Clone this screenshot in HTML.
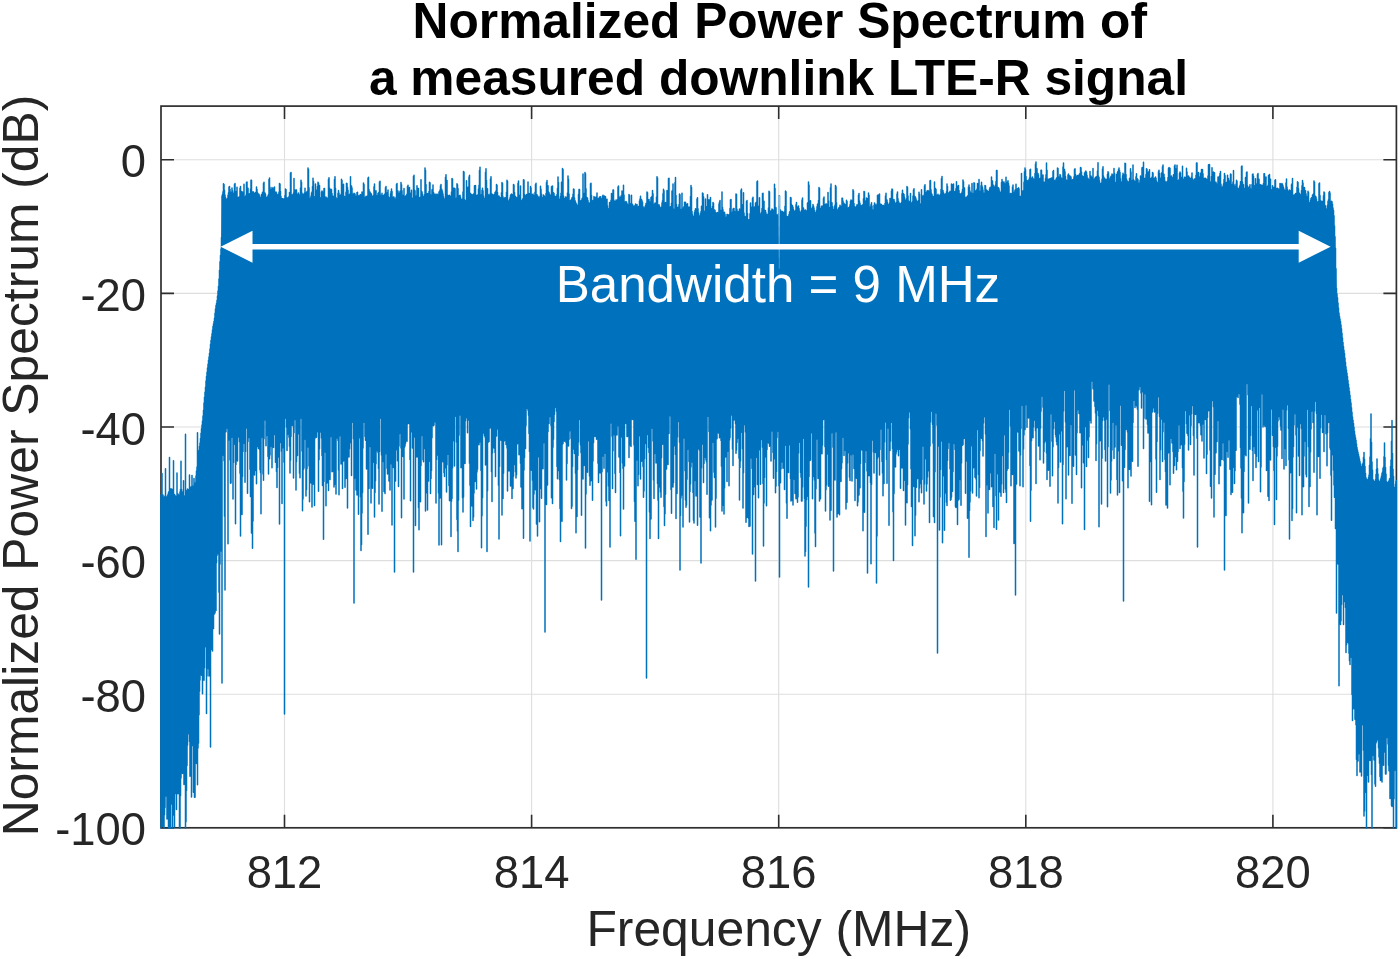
<!DOCTYPE html>
<html><head><meta charset="utf-8"><title>Normalized Power Spectrum</title>
<style>
html,body{margin:0;padding:0;background:#fff;overflow:hidden;}
svg{display:block}
text{font-family:"Liberation Sans",sans-serif;}
.tk{font-size:45.4px;fill:#262626;}
.lb{font-size:49.8px;fill:#262626;}
.tt{font-size:49.7px;font-weight:bold;fill:#000;}
</style></head><body>
<svg width="1400" height="959" viewBox="0 0 1400 959">
<rect width="1400" height="959" fill="#fff"/>
<defs><clipPath id="ax"><rect x="160.15" y="106.1" width="1237.1000000000001" height="722.6999999999999"/></clipPath></defs>
<path d="M284.50 106.1V827.8M531.60 106.1V827.8M778.70 106.1V827.8M1025.80 106.1V827.8M1272.90 106.1V827.8M161.0 159.80H1396.4M161.0 293.40H1396.4M161.0 427.00H1396.4M161.0 560.60H1396.4M161.0 694.20H1396.4" stroke="#dedede" stroke-width="1.1" fill="none"/>
<rect x="161.0" y="106.1" width="1235.4" height="721.6999999999999" fill="none" stroke="#2e2e2e" stroke-width="1.7"/>
<path d="M284.50 827.8v-13M284.50 106.1v13M531.60 827.8v-13M531.60 106.1v13M778.70 827.8v-13M778.70 106.1v13M1025.80 827.8v-13M1025.80 106.1v13M1272.90 827.8v-13M1272.90 106.1v13M161.0 159.80h13M1396.4 159.80h-13M161.0 293.40h13M1396.4 293.40h-13M161.0 427.00h13M1396.4 427.00h-13M161.0 560.60h13M1396.4 560.60h-13M161.0 694.20h13M1396.4 694.20h-13M161.0 827.80h13M1396.4 827.80h-13" stroke="#2e2e2e" stroke-width="1.6" fill="none"/>
<g clip-path="url(#ax)"><path d="M161.0 504.0 L162.0 503.9 L163.0 503.8 L164.0 503.7 L165.0 503.7 L166.0 503.6 L167.0 503.5 L168.0 503.4 L169.0 503.3 L170.0 503.2 L171.0 503.1 L172.0 503.0 L173.0 503.0 L174.0 502.9 L175.0 502.8 L176.0 502.7 L177.0 502.6 L178.0 502.5 L179.0 502.4 L180.0 502.3 L181.0 502.3 L182.0 502.2 L183.0 502.1 L184.0 502.0 L185.0 501.2 L186.0 500.3 L187.0 499.5 L188.0 498.7 L189.0 497.8 L190.0 497.0 L191.0 495.6 L192.0 494.2 L193.0 492.8 L194.0 491.4 L195.0 490.0 L196.0 482.2 L197.0 474.4 L198.0 466.7 L199.0 458.7 L200.0 450.5 L201.0 442.2 L202.0 434.0 L203.0 422.5 L204.0 411.0 L205.0 399.5 L206.0 388.0 L207.0 380.3 L208.0 372.6 L209.0 364.9 L210.0 357.2 L211.0 349.5 L212.0 341.8 L213.0 334.5 L214.0 327.5 L215.0 320.5 L216.0 313.6 L217.0 306.6 L218.0 299.2 L219.0 287.7 L220.0 270.0 L221.0 255.8 L222.0 203.0 L223.0 203.0 L224.0 203.0 L225.0 203.0 L226.0 203.0 L227.0 203.0 L228.0 203.0 L229.0 203.0 L230.0 203.0 L231.0 203.0 L232.0 203.0 L233.0 203.0 L234.0 203.0 L235.0 203.0 L236.0 203.0 L237.0 203.0 L238.0 203.0 L239.0 203.0 L240.0 203.0 L241.0 203.0 L242.0 203.0 L243.0 203.0 L244.0 203.0 L245.0 203.0 L246.0 203.0 L247.0 203.0 L248.0 203.0 L249.0 203.0 L250.0 203.0 L251.0 203.0 L252.0 203.0 L253.0 203.0 L254.0 203.0 L255.0 203.0 L256.0 203.0 L257.0 203.0 L258.0 203.0 L259.0 203.0 L260.0 203.0 L261.0 203.0 L262.0 203.0 L263.0 203.0 L264.0 203.0 L265.0 203.0 L266.0 203.0 L267.0 203.0 L268.0 203.0 L269.0 203.0 L270.0 203.0 L271.0 203.0 L272.0 203.0 L273.0 203.0 L274.0 203.0 L275.0 203.0 L276.0 203.0 L277.0 203.0 L278.0 203.0 L279.0 203.0 L280.0 203.0 L281.0 203.0 L282.0 203.0 L283.0 203.0 L284.0 203.0 L285.0 203.0 L286.0 203.0 L287.0 203.0 L288.0 203.0 L289.0 203.0 L290.0 203.0 L291.0 203.0 L292.0 203.0 L293.0 203.0 L294.0 203.0 L295.0 203.0 L296.0 203.0 L297.0 203.0 L298.0 203.0 L299.0 203.0 L300.0 203.0 L301.0 203.0 L302.0 203.0 L303.0 203.0 L304.0 203.0 L305.0 203.0 L306.0 203.0 L307.0 203.0 L308.0 203.0 L309.0 203.0 L310.0 203.0 L311.0 203.0 L312.0 203.0 L313.0 203.0 L314.0 203.0 L315.0 203.0 L316.0 203.0 L317.0 203.0 L318.0 203.0 L319.0 203.0 L320.0 203.0 L321.0 203.0 L322.0 203.0 L323.0 203.0 L324.0 203.0 L325.0 203.0 L326.0 203.0 L327.0 203.0 L328.0 203.0 L329.0 203.0 L330.0 203.0 L331.0 203.0 L332.0 203.0 L333.0 203.0 L334.0 203.0 L335.0 203.0 L336.0 203.0 L337.0 203.0 L338.0 203.0 L339.0 203.0 L340.0 203.0 L341.0 203.0 L342.0 203.0 L343.0 203.0 L344.0 203.1 L345.0 203.1 L346.0 203.2 L347.0 203.3 L348.0 203.4 L349.0 203.4 L350.0 203.5 L351.0 203.6 L352.0 203.6 L353.0 203.7 L354.0 203.8 L355.0 203.9 L356.0 203.9 L357.0 204.0 L358.0 204.1 L359.0 204.1 L360.0 204.2 L361.0 204.3 L362.0 204.4 L363.0 204.4 L364.0 204.5 L365.0 204.6 L366.0 204.6 L367.0 204.7 L368.0 204.8 L369.0 204.9 L370.0 204.9 L371.0 205.0 L372.0 205.0 L373.0 204.9 L374.0 204.9 L375.0 204.9 L376.0 204.9 L377.0 204.8 L378.0 204.8 L379.0 204.8 L380.0 204.8 L381.0 204.7 L382.0 204.7 L383.0 204.7 L384.0 204.7 L385.0 204.6 L386.0 204.6 L387.0 204.6 L388.0 204.6 L389.0 204.5 L390.0 204.5 L391.0 204.5 L392.0 204.5 L393.0 204.4 L394.0 204.4 L395.0 204.4 L396.0 204.4 L397.0 204.3 L398.0 204.3 L399.0 204.3 L400.0 204.3 L401.0 204.2 L402.0 204.2 L403.0 204.2 L404.0 204.2 L405.0 204.1 L406.0 204.1 L407.0 204.1 L408.0 204.1 L409.0 204.0 L410.0 204.0 L411.0 204.0 L412.0 204.0 L413.0 203.9 L414.0 203.9 L415.0 203.9 L416.0 203.9 L417.0 203.8 L418.0 203.8 L419.0 203.8 L420.0 203.8 L421.0 203.7 L422.0 203.7 L423.0 203.7 L424.0 203.7 L425.0 203.6 L426.0 203.6 L427.0 203.6 L428.0 203.6 L429.0 203.5 L430.0 203.5 L431.0 203.5 L432.0 203.5 L433.0 203.5 L434.0 203.5 L435.0 203.5 L436.0 203.5 L437.0 203.5 L438.0 203.5 L439.0 203.5 L440.0 203.5 L441.0 203.5 L442.0 203.5 L443.0 203.5 L444.0 203.5 L445.0 203.5 L446.0 203.5 L447.0 203.5 L448.0 203.5 L449.0 203.5 L450.0 203.5 L451.0 203.5 L452.0 203.5 L453.0 203.5 L454.0 203.5 L455.0 203.5 L456.0 203.5 L457.0 203.5 L458.0 203.5 L459.0 203.5 L460.0 203.5 L461.0 203.5 L462.0 203.5 L463.0 203.5 L464.0 203.5 L465.0 203.5 L466.0 203.5 L467.0 203.5 L468.0 203.5 L469.0 203.5 L470.0 203.5 L471.0 203.5 L472.0 203.5 L473.0 203.5 L474.0 203.5 L475.0 203.5 L476.0 203.5 L477.0 203.5 L478.0 203.5 L479.0 203.5 L480.0 203.5 L481.0 203.5 L482.0 203.5 L483.0 203.5 L484.0 203.5 L485.0 203.5 L486.0 203.5 L487.0 203.5 L488.0 203.5 L489.0 203.6 L490.0 203.6 L491.0 203.6 L492.0 203.6 L493.0 203.7 L494.0 203.7 L495.0 203.7 L496.0 203.7 L497.0 203.8 L498.0 203.8 L499.0 203.8 L500.0 203.8 L501.0 203.9 L502.0 203.9 L503.0 203.9 L504.0 203.9 L505.0 203.9 L506.0 204.0 L507.0 204.0 L508.0 204.0 L509.0 204.0 L510.0 204.1 L511.0 204.1 L512.0 204.1 L513.0 204.1 L514.0 204.2 L515.0 204.2 L516.0 204.2 L517.0 204.2 L518.0 204.3 L519.0 204.3 L520.0 204.3 L521.0 204.3 L522.0 204.3 L523.0 204.4 L524.0 204.4 L525.0 204.4 L526.0 204.4 L527.0 204.5 L528.0 204.5 L529.0 204.5 L530.0 204.5 L531.0 204.6 L532.0 204.6 L533.0 204.6 L534.0 204.6 L535.0 204.7 L536.0 204.7 L537.0 204.7 L538.0 204.7 L539.0 204.7 L540.0 204.8 L541.0 204.8 L542.0 204.8 L543.0 204.8 L544.0 204.9 L545.0 204.9 L546.0 204.9 L547.0 204.9 L548.0 205.0 L549.0 205.0 L550.0 205.0 L551.0 205.0 L552.0 205.1 L553.0 205.1 L554.0 205.1 L555.0 205.1 L556.0 205.1 L557.0 205.2 L558.0 205.2 L559.0 205.2 L560.0 205.2 L561.0 205.3 L562.0 205.3 L563.0 205.3 L564.0 205.3 L565.0 205.4 L566.0 205.4 L567.0 205.4 L568.0 205.4 L569.0 205.5 L570.0 205.5 L571.0 205.5 L572.0 205.6 L573.0 205.7 L574.0 205.9 L575.0 206.0 L576.0 206.1 L577.0 206.2 L578.0 206.3 L579.0 206.5 L580.0 206.6 L581.0 206.7 L582.0 206.8 L583.0 206.9 L584.0 207.1 L585.0 207.2 L586.0 207.3 L587.0 207.4 L588.0 207.6 L589.0 207.7 L590.0 207.8 L591.0 207.9 L592.0 208.0 L593.0 208.2 L594.0 208.3 L595.0 208.4 L596.0 208.5 L597.0 208.6 L598.0 208.8 L599.0 208.9 L600.0 209.0 L601.0 209.1 L602.0 209.2 L603.0 209.3 L604.0 209.4 L605.0 209.5 L606.0 209.6 L607.0 209.7 L608.0 209.8 L609.0 209.9 L610.0 210.0 L611.0 210.1 L612.0 210.2 L613.0 210.3 L614.0 210.4 L615.0 210.5 L616.0 210.6 L617.0 210.7 L618.0 210.8 L619.0 210.9 L620.0 211.0 L621.0 211.1 L622.0 211.2 L623.0 211.3 L624.0 211.4 L625.0 211.5 L626.0 211.6 L627.0 211.7 L628.0 211.8 L629.0 211.9 L630.0 212.0 L631.0 212.1 L632.0 212.2 L633.0 212.3 L634.0 212.4 L635.0 212.5 L636.0 212.6 L637.0 212.7 L638.0 212.8 L639.0 212.9 L640.0 213.0 L641.0 213.1 L642.0 213.2 L643.0 213.3 L644.0 213.4 L645.0 213.5 L646.0 213.6 L647.0 213.7 L648.0 213.8 L649.0 213.9 L650.0 214.0 L651.0 214.1 L652.0 214.2 L653.0 214.3 L654.0 214.4 L655.0 214.5 L656.0 214.6 L657.0 214.7 L658.0 214.8 L659.0 214.9 L660.0 215.0 L661.0 215.1 L662.0 215.2 L663.0 215.3 L664.0 215.4 L665.0 215.5 L666.0 215.6 L667.0 215.7 L668.0 215.8 L669.0 215.9 L670.0 216.0 L671.0 216.1 L672.0 216.2 L673.0 216.3 L674.0 216.3 L675.0 216.4 L676.0 216.5 L677.0 216.6 L678.0 216.7 L679.0 216.8 L680.0 216.9 L681.0 217.0 L682.0 217.1 L683.0 217.2 L684.0 217.3 L685.0 217.4 L686.0 217.5 L687.0 217.6 L688.0 217.7 L689.0 217.8 L690.0 217.9 L691.0 218.0 L692.0 218.1 L693.0 218.2 L694.0 218.3 L695.0 218.4 L696.0 218.5 L697.0 218.6 L698.0 218.7 L699.0 218.8 L700.0 218.9 L701.0 219.0 L702.0 219.0 L703.0 219.1 L704.0 219.2 L705.0 219.3 L706.0 219.4 L707.0 219.5 L708.0 219.6 L709.0 219.7 L710.0 219.8 L711.0 219.9 L712.0 220.0 L713.0 220.1 L714.0 220.2 L715.0 220.3 L716.0 220.4 L717.0 220.5 L718.0 220.6 L719.0 220.7 L720.0 220.8 L721.0 220.9 L722.0 221.0 L723.0 221.1 L724.0 221.2 L725.0 221.3 L726.0 221.4 L727.0 221.5 L728.0 221.6 L729.0 221.7 L730.0 221.7 L731.0 221.8 L732.0 221.9 L733.0 222.0 L734.0 222.1 L735.0 222.2 L736.0 222.3 L737.0 222.4 L738.0 222.5 L739.0 222.6 L740.0 222.7 L741.0 222.8 L742.0 222.9 L743.0 223.0 L744.0 222.9 L745.0 222.9 L746.0 222.8 L747.0 222.8 L748.0 222.7 L749.0 222.7 L750.0 222.6 L751.0 222.6 L752.0 222.5 L753.0 222.5 L754.0 222.4 L755.0 222.4 L756.0 222.3 L757.0 222.2 L758.0 222.2 L759.0 222.1 L760.0 222.1 L761.0 222.0 L762.0 222.0 L763.0 221.9 L764.0 221.9 L765.0 221.8 L766.0 221.8 L767.0 221.7 L768.0 221.6 L769.0 221.6 L770.0 221.5 L771.0 221.5 L772.0 221.4 L773.0 221.4 L774.0 221.3 L775.0 221.3 L776.0 221.2 L777.0 221.2 L778.0 221.1 L779.0 221.1 L780.0 221.0 L781.0 220.9 L782.0 220.8 L783.0 220.7 L784.0 220.6 L785.0 220.5 L786.0 220.4 L787.0 220.3 L788.0 220.2 L789.0 220.2 L790.0 220.1 L791.0 220.0 L792.0 219.9 L793.0 219.8 L794.0 219.7 L795.0 219.6 L796.0 219.5 L797.0 219.4 L798.0 219.3 L799.0 219.2 L800.0 219.1 L801.0 219.0 L802.0 218.9 L803.0 218.8 L804.0 218.7 L805.0 218.6 L806.0 218.5 L807.0 218.5 L808.0 218.4 L809.0 218.3 L810.0 218.2 L811.0 218.1 L812.0 218.0 L813.0 217.9 L814.0 217.8 L815.0 217.7 L816.0 217.6 L817.0 217.5 L818.0 217.4 L819.0 217.3 L820.0 217.2 L821.0 217.1 L822.0 217.0 L823.0 216.9 L824.0 216.8 L825.0 216.8 L826.0 216.7 L827.0 216.6 L828.0 216.5 L829.0 216.4 L830.0 216.3 L831.0 216.2 L832.0 216.1 L833.0 216.0 L834.0 215.9 L835.0 215.8 L836.0 215.7 L837.0 215.6 L838.0 215.5 L839.0 215.4 L840.0 215.3 L841.0 215.2 L842.0 215.2 L843.0 215.1 L844.0 215.0 L845.0 214.9 L846.0 214.8 L847.0 214.7 L848.0 214.6 L849.0 214.5 L850.0 214.4 L851.0 214.3 L852.0 214.2 L853.0 214.1 L854.0 214.0 L855.0 213.9 L856.0 213.8 L857.0 213.7 L858.0 213.6 L859.0 213.5 L860.0 213.5 L861.0 213.4 L862.0 213.3 L863.0 213.2 L864.0 213.1 L865.0 213.0 L866.0 212.9 L867.0 212.8 L868.0 212.7 L869.0 212.6 L870.0 212.5 L871.0 212.4 L872.0 212.3 L873.0 212.2 L874.0 212.1 L875.0 212.0 L876.0 211.9 L877.0 211.8 L878.0 211.8 L879.0 211.7 L880.0 211.6 L881.0 211.5 L882.0 211.4 L883.0 211.3 L884.0 211.2 L885.0 211.1 L886.0 211.0 L887.0 210.9 L888.0 210.7 L889.0 210.6 L890.0 210.4 L891.0 210.3 L892.0 210.2 L893.0 210.0 L894.0 209.9 L895.0 209.7 L896.0 209.6 L897.0 209.5 L898.0 209.3 L899.0 209.2 L900.0 209.0 L901.0 208.9 L902.0 208.8 L903.0 208.6 L904.0 208.5 L905.0 208.3 L906.0 208.2 L907.0 208.1 L908.0 207.9 L909.0 207.8 L910.0 207.6 L911.0 207.5 L912.0 207.4 L913.0 207.2 L914.0 207.1 L915.0 206.9 L916.0 206.8 L917.0 206.6 L918.0 206.5 L919.0 206.4 L920.0 206.2 L921.0 206.1 L922.0 205.9 L923.0 205.8 L924.0 205.7 L925.0 205.5 L926.0 205.4 L927.0 205.2 L928.0 205.1 L929.0 205.0 L930.0 204.8 L931.0 204.7 L932.0 204.5 L933.0 204.4 L934.0 204.3 L935.0 204.1 L936.0 204.0 L937.0 203.8 L938.0 203.7 L939.0 203.6 L940.0 203.4 L941.0 203.3 L942.0 203.1 L943.0 203.0 L944.0 202.9 L945.0 202.8 L946.0 202.7 L947.0 202.6 L948.0 202.6 L949.0 202.5 L950.0 202.4 L951.0 202.3 L952.0 202.2 L953.0 202.1 L954.0 202.0 L955.0 201.9 L956.0 201.9 L957.0 201.8 L958.0 201.7 L959.0 201.6 L960.0 201.5 L961.0 201.4 L962.0 201.3 L963.0 201.2 L964.0 201.2 L965.0 201.1 L966.0 201.0 L967.0 200.9 L968.0 200.8 L969.0 200.7 L970.0 200.6 L971.0 200.5 L972.0 200.5 L973.0 200.4 L974.0 200.3 L975.0 200.2 L976.0 200.1 L977.0 200.0 L978.0 199.9 L979.0 199.8 L980.0 199.8 L981.0 199.7 L982.0 199.6 L983.0 199.5 L984.0 199.4 L985.0 199.3 L986.0 199.2 L987.0 199.1 L988.0 199.1 L989.0 199.0 L990.0 198.9 L991.0 198.8 L992.0 198.7 L993.0 198.6 L994.0 198.5 L995.0 198.4 L996.0 198.4 L997.0 198.3 L998.0 198.2 L999.0 198.1 L1000.0 198.0 L1001.0 198.2 L1002.0 198.3 L1003.0 198.5 L1004.0 198.7 L1005.0 198.9 L1006.0 199.0 L1007.0 199.2 L1008.0 199.4 L1009.0 199.6 L1010.0 199.7 L1011.0 199.9 L1012.0 200.1 L1013.0 200.3 L1014.0 200.4 L1015.0 200.6 L1016.0 200.8 L1017.0 201.0 L1018.0 201.1 L1019.0 201.3 L1020.0 201.5 L1021.0 201.7 L1022.0 201.8 L1023.0 202.0 L1024.0 198.6 L1025.0 195.2 L1026.0 191.9 L1027.0 188.5 L1028.0 188.5 L1029.0 188.4 L1030.0 188.4 L1031.0 188.3 L1032.0 188.3 L1033.0 188.2 L1034.0 188.2 L1035.0 188.2 L1036.0 188.1 L1037.0 188.1 L1038.0 188.0 L1039.0 188.0 L1040.0 187.9 L1041.0 187.9 L1042.0 187.9 L1043.0 187.8 L1044.0 187.8 L1045.0 187.7 L1046.0 187.7 L1047.0 187.7 L1048.0 187.6 L1049.0 187.6 L1050.0 187.5 L1051.0 187.5 L1052.0 187.4 L1053.0 187.4 L1054.0 187.4 L1055.0 187.3 L1056.0 187.3 L1057.0 187.2 L1058.0 187.2 L1059.0 187.1 L1060.0 187.1 L1061.0 187.1 L1062.0 187.0 L1063.0 187.0 L1064.0 186.9 L1065.0 186.9 L1066.0 186.8 L1067.0 186.8 L1068.0 186.8 L1069.0 186.7 L1070.0 186.7 L1071.0 186.6 L1072.0 186.6 L1073.0 186.6 L1074.0 186.5 L1075.0 186.5 L1076.0 186.4 L1077.0 186.4 L1078.0 186.3 L1079.0 186.3 L1080.0 186.3 L1081.0 186.2 L1082.0 186.2 L1083.0 186.1 L1084.0 186.1 L1085.0 186.0 L1086.0 186.0 L1087.0 186.0 L1088.0 186.0 L1089.0 186.0 L1090.0 186.0 L1091.0 186.0 L1092.0 186.0 L1093.0 186.0 L1094.0 186.0 L1095.0 186.0 L1096.0 186.0 L1097.0 186.0 L1098.0 186.0 L1099.0 186.0 L1100.0 186.0 L1101.0 186.0 L1102.0 186.0 L1103.0 186.0 L1104.0 186.0 L1105.0 186.0 L1106.0 186.0 L1107.0 186.0 L1108.0 186.0 L1109.0 186.0 L1110.0 186.0 L1111.0 186.0 L1112.0 186.0 L1113.0 186.0 L1114.0 186.0 L1115.0 186.0 L1116.0 186.0 L1117.0 186.0 L1118.0 186.0 L1119.0 186.0 L1120.0 186.0 L1121.0 186.0 L1122.0 186.0 L1123.0 186.0 L1124.0 186.0 L1125.0 186.0 L1126.0 186.0 L1127.0 186.0 L1128.0 186.0 L1129.0 186.0 L1130.0 186.0 L1131.0 186.0 L1132.0 186.0 L1133.0 186.0 L1134.0 186.0 L1135.0 186.0 L1136.0 186.0 L1137.0 186.0 L1138.0 186.0 L1139.0 186.0 L1140.0 186.0 L1141.0 186.0 L1142.0 186.0 L1143.0 186.0 L1144.0 186.0 L1145.0 186.0 L1146.0 186.0 L1147.0 186.0 L1148.0 186.0 L1149.0 186.0 L1150.0 186.0 L1151.0 186.0 L1152.0 186.0 L1153.0 186.0 L1154.0 186.0 L1155.0 186.0 L1156.0 186.0 L1157.0 186.0 L1158.0 186.0 L1159.0 186.0 L1160.0 186.0 L1161.0 186.0 L1162.0 186.0 L1163.0 186.0 L1164.0 186.0 L1165.0 186.0 L1166.0 186.0 L1167.0 186.0 L1168.0 186.0 L1169.0 186.0 L1170.0 186.0 L1171.0 186.0 L1172.0 186.1 L1173.0 186.2 L1174.0 186.3 L1175.0 186.4 L1176.0 186.5 L1177.0 186.6 L1178.0 186.7 L1179.0 186.7 L1180.0 186.8 L1181.0 186.9 L1182.0 187.0 L1183.0 187.1 L1184.0 187.2 L1185.0 187.3 L1186.0 187.4 L1187.0 187.5 L1188.0 187.6 L1189.0 187.7 L1190.0 187.8 L1191.0 187.9 L1192.0 188.0 L1193.0 188.0 L1194.0 188.1 L1195.0 188.2 L1196.0 188.3 L1197.0 188.4 L1198.0 188.5 L1199.0 188.6 L1200.0 188.7 L1201.0 188.8 L1202.0 188.9 L1203.0 189.0 L1204.0 189.1 L1205.0 189.2 L1206.0 189.3 L1207.0 189.3 L1208.0 189.4 L1209.0 189.5 L1210.0 189.6 L1211.0 189.7 L1212.0 189.8 L1213.0 189.9 L1214.0 190.0 L1215.0 190.1 L1216.0 190.2 L1217.0 190.3 L1218.0 190.4 L1219.0 190.5 L1220.0 190.6 L1221.0 190.7 L1222.0 190.7 L1223.0 190.8 L1224.0 190.9 L1225.0 191.0 L1226.0 191.1 L1227.0 191.2 L1228.0 191.3 L1229.0 191.4 L1230.0 191.5 L1231.0 191.6 L1232.0 191.7 L1233.0 191.8 L1234.0 191.9 L1235.0 192.0 L1236.0 192.0 L1237.0 192.1 L1238.0 192.2 L1239.0 192.3 L1240.0 192.4 L1241.0 192.5 L1242.0 192.6 L1243.0 192.7 L1244.0 192.8 L1245.0 192.9 L1246.0 193.0 L1247.0 193.1 L1248.0 193.2 L1249.0 193.3 L1250.0 193.3 L1251.0 193.4 L1252.0 193.5 L1253.0 193.6 L1254.0 193.7 L1255.0 193.8 L1256.0 193.9 L1257.0 194.0 L1258.0 194.2 L1259.0 194.3 L1260.0 194.5 L1261.0 194.7 L1262.0 194.8 L1263.0 195.0 L1264.0 195.1 L1265.0 195.3 L1266.0 195.5 L1267.0 195.6 L1268.0 195.8 L1269.0 196.0 L1270.0 196.1 L1271.0 196.3 L1272.0 196.4 L1273.0 196.6 L1274.0 196.8 L1275.0 196.9 L1276.0 197.1 L1277.0 197.3 L1278.0 197.4 L1279.0 197.6 L1280.0 197.7 L1281.0 197.9 L1282.0 198.1 L1283.0 198.2 L1284.0 198.4 L1285.0 198.6 L1286.0 198.7 L1287.0 198.9 L1288.0 199.0 L1289.0 199.2 L1290.0 199.4 L1291.0 199.5 L1292.0 199.7 L1293.0 199.9 L1294.0 200.0 L1295.0 200.2 L1296.0 200.3 L1297.0 200.5 L1298.0 200.7 L1299.0 200.8 L1300.0 201.0 L1301.0 201.4 L1302.0 201.9 L1303.0 202.3 L1304.0 202.7 L1305.0 203.1 L1306.0 203.6 L1307.0 204.0 L1308.0 204.4 L1309.0 204.9 L1310.0 205.3 L1311.0 205.7 L1312.0 206.1 L1313.0 206.6 L1314.0 207.0 L1315.0 207.4 L1316.0 207.9 L1317.0 208.3 L1318.0 208.7 L1319.0 209.1 L1320.0 209.6 L1321.0 210.0 L1322.0 210.4 L1323.0 210.9 L1324.0 211.3 L1325.0 211.7 L1326.0 212.1 L1327.0 212.6 L1328.0 213.0 L1329.0 213.7 L1330.0 214.4 L1331.0 215.1 L1332.0 215.9 L1333.0 216.6 L1334.0 223.0 L1335.0 244.3 L1336.0 275.9 L1337.0 304.1 L1338.0 311.8 L1339.0 319.5 L1340.0 327.2 L1341.0 334.8 L1342.0 342.5 L1343.0 350.2 L1344.0 357.9 L1345.0 365.6 L1346.0 373.3 L1347.0 381.0 L1348.0 388.6 L1349.0 396.1 L1350.0 403.7 L1351.0 411.3 L1352.0 418.9 L1353.0 426.4 L1354.0 434.0 L1355.0 441.0 L1356.0 448.0 L1357.0 455.0 L1358.0 459.7 L1359.0 464.3 L1360.0 469.0 L1361.0 473.7 L1362.0 476.8 L1363.0 478.3 L1364.0 479.8 L1365.0 481.4 L1366.0 482.9 L1367.0 484.5 L1368.0 486.0 L1369.0 486.1 L1370.0 486.3 L1371.0 486.4 L1372.0 486.6 L1373.0 486.7 L1374.0 486.8 L1375.0 487.0 L1376.0 487.1 L1377.0 487.2 L1378.0 487.4 L1379.0 487.5 L1380.0 487.7 L1381.0 487.8 L1382.0 487.9 L1383.0 488.1 L1384.0 488.2 L1385.0 488.3 L1386.0 488.5 L1387.0 488.6 L1388.0 488.8 L1389.0 488.9 L1390.0 489.0 L1391.0 489.2 L1392.0 489.3 L1393.0 489.4 L1394.0 489.6 L1395.0 489.7 L1396.0 489.9 L1396.0 707.6 L1395.0 707.2 L1394.0 706.8 L1393.0 706.4 L1392.0 706.0 L1391.0 705.6 L1390.0 705.2 L1389.0 704.8 L1388.0 704.4 L1387.0 704.0 L1386.0 703.6 L1385.0 703.2 L1384.0 702.8 L1383.0 702.4 L1382.0 702.0 L1381.0 701.6 L1380.0 701.2 L1379.0 700.8 L1378.0 700.4 L1377.0 700.0 L1376.0 699.1 L1375.0 698.2 L1374.0 697.2 L1373.0 696.3 L1372.0 695.4 L1371.0 694.5 L1370.0 693.5 L1369.0 692.6 L1368.0 691.7 L1367.0 690.8 L1366.0 689.8 L1365.0 688.9 L1364.0 688.0 L1363.0 687.6 L1362.0 687.2 L1361.0 686.8 L1360.0 686.4 L1359.0 686.0 L1358.0 685.6 L1357.0 685.2 L1356.0 677.6 L1355.0 662.8 L1354.0 648.0 L1353.0 638.7 L1352.0 629.3 L1351.0 620.0 L1350.0 610.6 L1349.0 601.2 L1348.0 591.8 L1347.0 582.4 L1346.0 573.0 L1345.0 563.6 L1344.0 554.2 L1343.0 544.8 L1342.0 535.0 L1341.0 525.0 L1340.0 515.0 L1339.0 505.0 L1338.0 495.0 L1337.0 475.0 L1336.0 448.3 L1335.0 428.4 L1334.0 415.2 L1333.0 357.0 L1332.0 356.8 L1331.0 356.7 L1330.0 356.5 L1329.0 356.4 L1328.0 356.2 L1327.0 356.1 L1326.0 355.9 L1325.0 355.8 L1324.0 355.6 L1323.0 355.5 L1322.0 355.3 L1321.0 355.2 L1320.0 355.0 L1319.0 354.9 L1318.0 354.7 L1317.0 354.6 L1316.0 354.4 L1315.0 354.3 L1314.0 354.1 L1313.0 354.0 L1312.0 353.8 L1311.0 353.7 L1310.0 353.5 L1309.0 353.4 L1308.0 353.2 L1307.0 353.1 L1306.0 352.9 L1305.0 352.8 L1304.0 352.6 L1303.0 352.5 L1302.0 352.3 L1301.0 352.2 L1300.0 352.0 L1299.0 352.0 L1298.0 352.0 L1297.0 352.0 L1296.0 352.0 L1295.0 352.0 L1294.0 352.0 L1293.0 352.0 L1292.0 352.0 L1291.0 352.0 L1290.0 352.0 L1289.0 352.0 L1288.0 352.0 L1287.0 352.0 L1286.0 352.0 L1285.0 352.0 L1284.0 352.0 L1283.0 352.0 L1282.0 352.0 L1281.0 352.0 L1280.0 352.0 L1279.0 352.0 L1278.0 352.0 L1277.0 352.0 L1276.0 352.0 L1275.0 352.0 L1274.0 352.0 L1273.0 352.0 L1272.0 352.0 L1271.0 352.0 L1270.0 352.0 L1269.0 352.0 L1268.0 352.0 L1267.0 352.0 L1266.0 352.0 L1265.0 352.0 L1264.0 352.0 L1263.0 352.0 L1262.0 352.0 L1261.0 352.0 L1260.0 352.0 L1259.0 352.0 L1258.0 352.0 L1257.0 352.0 L1256.0 352.0 L1255.0 352.0 L1254.0 352.0 L1253.0 352.0 L1252.0 352.0 L1251.0 352.0 L1250.0 352.0 L1249.0 352.0 L1248.0 352.0 L1247.0 352.0 L1246.0 352.0 L1245.0 352.0 L1244.0 352.0 L1243.0 352.0 L1242.0 352.0 L1241.0 352.0 L1240.0 352.0 L1239.0 352.0 L1238.0 352.0 L1237.0 352.0 L1236.0 352.0 L1235.0 352.0 L1234.0 352.0 L1233.0 352.0 L1232.0 352.0 L1231.0 352.0 L1230.0 352.0 L1229.0 352.0 L1228.0 352.0 L1227.0 352.0 L1226.0 352.0 L1225.0 352.0 L1224.0 352.0 L1223.0 352.0 L1222.0 352.0 L1221.0 352.0 L1220.0 352.0 L1219.0 352.0 L1218.0 352.0 L1217.0 352.0 L1216.0 352.0 L1215.0 352.0 L1214.0 352.0 L1213.0 352.0 L1212.0 352.0 L1211.0 352.0 L1210.0 352.0 L1209.0 352.0 L1208.0 352.0 L1207.0 352.0 L1206.0 352.0 L1205.0 352.0 L1204.0 352.0 L1203.0 352.0 L1202.0 352.0 L1201.0 352.0 L1200.0 352.0 L1199.0 352.0 L1198.0 352.0 L1197.0 352.0 L1196.0 352.0 L1195.0 352.0 L1194.0 352.0 L1193.0 352.0 L1192.0 352.0 L1191.0 352.0 L1190.0 352.0 L1189.0 352.0 L1188.0 352.0 L1187.0 352.0 L1186.0 352.0 L1185.0 352.0 L1184.0 352.0 L1183.0 352.0 L1182.0 352.0 L1181.0 352.0 L1180.0 352.0 L1179.0 352.0 L1178.0 352.0 L1177.0 352.0 L1176.0 352.0 L1175.0 352.0 L1174.0 352.0 L1173.0 352.0 L1172.0 352.0 L1171.0 352.0 L1170.0 352.0 L1169.0 352.0 L1168.0 352.0 L1167.0 352.0 L1166.0 352.0 L1165.0 352.0 L1164.0 352.0 L1163.0 352.0 L1162.0 352.0 L1161.0 352.0 L1160.0 352.0 L1159.0 352.0 L1158.0 352.0 L1157.0 352.0 L1156.0 352.0 L1155.0 352.0 L1154.0 352.0 L1153.0 352.0 L1152.0 352.0 L1151.0 352.0 L1150.0 352.0 L1149.0 352.0 L1148.0 352.0 L1147.0 352.0 L1146.0 352.0 L1145.0 352.0 L1144.0 352.0 L1143.0 352.0 L1142.0 352.0 L1141.0 352.0 L1140.0 352.0 L1139.0 352.0 L1138.0 352.0 L1137.0 352.0 L1136.0 352.0 L1135.0 352.0 L1134.0 352.0 L1133.0 352.0 L1132.0 352.0 L1131.0 352.0 L1130.0 352.0 L1129.0 352.0 L1128.0 352.0 L1127.0 352.0 L1126.0 352.0 L1125.0 352.0 L1124.0 352.0 L1123.0 352.0 L1122.0 352.0 L1121.0 352.0 L1120.0 352.0 L1119.0 352.0 L1118.0 352.0 L1117.0 352.0 L1116.0 352.0 L1115.0 352.0 L1114.0 352.0 L1113.0 352.0 L1112.0 352.0 L1111.0 352.0 L1110.0 352.0 L1109.0 352.0 L1108.0 352.0 L1107.0 352.0 L1106.0 352.0 L1105.0 352.0 L1104.0 352.0 L1103.0 352.0 L1102.0 352.0 L1101.0 352.0 L1100.0 352.0 L1099.0 352.0 L1098.0 352.0 L1097.0 352.0 L1096.0 352.0 L1095.0 352.0 L1094.0 352.0 L1093.0 352.0 L1092.0 352.0 L1091.0 352.0 L1090.0 352.0 L1089.0 352.0 L1088.0 352.0 L1087.0 352.0 L1086.0 352.0 L1085.0 352.0 L1084.0 352.0 L1083.0 352.0 L1082.0 352.0 L1081.0 352.0 L1080.0 352.0 L1079.0 352.0 L1078.0 352.0 L1077.0 352.0 L1076.0 352.0 L1075.0 352.0 L1074.0 352.0 L1073.0 352.0 L1072.0 352.0 L1071.0 352.0 L1070.0 352.0 L1069.0 352.0 L1068.0 352.0 L1067.0 352.0 L1066.0 352.0 L1065.0 352.0 L1064.0 352.0 L1063.0 352.0 L1062.0 352.0 L1061.0 352.0 L1060.0 352.0 L1059.0 352.0 L1058.0 352.0 L1057.0 352.0 L1056.0 352.0 L1055.0 352.0 L1054.0 352.0 L1053.0 352.0 L1052.0 352.0 L1051.0 352.0 L1050.0 352.0 L1049.0 352.0 L1048.0 352.0 L1047.0 352.0 L1046.0 352.0 L1045.0 352.0 L1044.0 352.0 L1043.0 352.0 L1042.0 352.0 L1041.0 352.0 L1040.0 352.0 L1039.0 352.0 L1038.0 352.0 L1037.0 352.0 L1036.0 352.0 L1035.0 352.0 L1034.0 352.0 L1033.0 352.0 L1032.0 352.0 L1031.0 352.0 L1030.0 352.0 L1029.0 355.2 L1028.0 358.5 L1027.0 361.8 L1026.0 365.0 L1025.0 365.6 L1024.0 366.2 L1023.0 366.8 L1022.0 367.5 L1021.0 368.1 L1020.0 368.7 L1019.0 369.3 L1018.0 369.9 L1017.0 370.5 L1016.0 371.2 L1015.0 371.8 L1014.0 372.4 L1013.0 373.0 L1012.0 373.6 L1011.0 374.2 L1010.0 374.8 L1009.0 375.5 L1008.0 376.1 L1007.0 376.7 L1006.0 377.3 L1005.0 377.9 L1004.0 378.5 L1003.0 379.2 L1002.0 379.8 L1001.0 380.4 L1000.0 381.0 L999.0 381.0 L998.0 381.0 L997.0 381.0 L996.0 381.0 L995.0 381.0 L994.0 381.0 L993.0 381.0 L992.0 381.0 L991.0 381.0 L990.0 381.0 L989.0 381.0 L988.0 381.0 L987.0 381.0 L986.0 381.0 L985.0 381.0 L984.0 381.0 L983.0 381.0 L982.0 381.0 L981.0 381.0 L980.0 381.0 L979.0 381.0 L978.0 381.0 L977.0 381.0 L976.0 381.0 L975.0 381.0 L974.0 381.0 L973.0 381.0 L972.0 381.0 L971.0 381.0 L970.0 381.0 L969.0 381.0 L968.0 381.0 L967.0 381.0 L966.0 381.0 L965.0 381.0 L964.0 381.0 L963.0 381.0 L962.0 381.0 L961.0 381.0 L960.0 381.0 L959.0 381.0 L958.0 381.0 L957.0 381.0 L956.0 381.0 L955.0 381.0 L954.0 381.0 L953.0 381.0 L952.0 381.0 L951.0 381.0 L950.0 381.0 L949.0 381.0 L948.0 381.0 L947.0 381.0 L946.0 381.0 L945.0 381.0 L944.0 381.0 L943.0 381.0 L942.0 381.0 L941.0 381.0 L940.0 381.0 L939.0 381.0 L938.0 381.0 L937.0 381.0 L936.0 381.0 L935.0 381.0 L934.0 381.0 L933.0 381.0 L932.0 381.0 L931.0 381.0 L930.0 381.0 L929.0 381.0 L928.0 381.0 L927.0 381.0 L926.0 381.0 L925.0 381.0 L924.0 381.0 L923.0 381.0 L922.0 381.0 L921.0 381.0 L920.0 381.0 L919.0 381.0 L918.0 381.0 L917.0 381.0 L916.0 381.0 L915.0 381.0 L914.0 381.0 L913.0 381.0 L912.0 381.0 L911.0 381.0 L910.0 381.0 L909.0 381.0 L908.0 381.0 L907.0 381.0 L906.0 381.0 L905.0 381.0 L904.0 381.0 L903.0 381.0 L902.0 381.0 L901.0 381.0 L900.0 381.0 L899.0 381.0 L898.0 381.0 L897.0 381.0 L896.0 381.0 L895.0 381.0 L894.0 381.0 L893.0 381.0 L892.0 381.0 L891.0 381.0 L890.0 381.0 L889.0 381.0 L888.0 381.0 L887.0 381.0 L886.0 381.0 L885.0 381.0 L884.0 381.0 L883.0 381.0 L882.0 381.0 L881.0 381.0 L880.0 381.0 L879.0 381.0 L878.0 381.0 L877.0 381.0 L876.0 381.0 L875.0 381.0 L874.0 381.0 L873.0 381.0 L872.0 381.0 L871.0 381.0 L870.0 381.0 L869.0 381.0 L868.0 381.0 L867.0 381.0 L866.0 381.0 L865.0 381.0 L864.0 381.0 L863.0 381.0 L862.0 381.0 L861.0 381.0 L860.0 381.0 L859.0 381.0 L858.0 381.0 L857.0 381.0 L856.0 381.0 L855.0 381.0 L854.0 381.0 L853.0 381.0 L852.0 381.0 L851.0 381.0 L850.0 381.0 L849.0 381.0 L848.0 381.0 L847.0 381.0 L846.0 381.0 L845.0 381.0 L844.0 381.0 L843.0 381.0 L842.0 381.0 L841.0 381.0 L840.0 381.0 L839.0 381.0 L838.0 381.0 L837.0 381.0 L836.0 381.0 L835.0 381.0 L834.0 381.0 L833.0 381.0 L832.0 381.0 L831.0 381.0 L830.0 381.0 L829.0 381.0 L828.0 381.0 L827.0 381.0 L826.0 381.0 L825.0 381.0 L824.0 381.0 L823.0 381.0 L822.0 381.0 L821.0 381.0 L820.0 381.0 L819.0 381.0 L818.0 381.0 L817.0 381.0 L816.0 381.0 L815.0 381.0 L814.0 381.0 L813.0 381.0 L812.0 381.0 L811.0 381.0 L810.0 381.0 L809.0 381.0 L808.0 381.0 L807.0 381.0 L806.0 381.0 L805.0 381.0 L804.0 381.0 L803.0 381.0 L802.0 381.0 L801.0 381.0 L800.0 381.0 L799.0 381.0 L798.0 381.0 L797.0 381.0 L796.0 381.0 L795.0 381.0 L794.0 381.0 L793.0 381.0 L792.0 381.0 L791.0 381.0 L790.0 381.0 L789.0 381.0 L788.0 381.0 L787.0 381.0 L786.0 381.0 L785.0 381.0 L784.0 381.0 L783.0 381.0 L782.0 381.0 L781.0 381.0 L780.0 381.0 L779.0 381.0 L778.0 381.0 L777.0 381.0 L776.0 381.0 L775.0 381.0 L774.0 381.0 L773.0 381.0 L772.0 381.0 L771.0 381.0 L770.0 381.0 L769.0 381.0 L768.0 381.0 L767.0 381.0 L766.0 381.0 L765.0 381.0 L764.0 381.0 L763.0 381.0 L762.0 381.0 L761.0 381.0 L760.0 381.0 L759.0 381.0 L758.0 381.0 L757.0 381.0 L756.0 381.0 L755.0 381.0 L754.0 381.0 L753.0 381.0 L752.0 381.0 L751.0 381.0 L750.0 381.0 L749.0 381.0 L748.0 381.0 L747.0 381.0 L746.0 381.0 L745.0 381.0 L744.0 381.0 L743.0 381.0 L742.0 381.0 L741.0 381.0 L740.0 381.0 L739.0 381.0 L738.0 381.0 L737.0 381.0 L736.0 381.0 L735.0 381.0 L734.0 381.0 L733.0 381.0 L732.0 381.0 L731.0 381.0 L730.0 381.0 L729.0 381.0 L728.0 381.0 L727.0 381.0 L726.0 381.0 L725.0 381.0 L724.0 381.0 L723.0 381.0 L722.0 381.0 L721.0 381.0 L720.0 381.0 L719.0 381.0 L718.0 381.0 L717.0 381.0 L716.0 381.0 L715.0 381.0 L714.0 381.0 L713.0 381.0 L712.0 381.0 L711.0 381.0 L710.0 381.0 L709.0 381.0 L708.0 381.0 L707.0 381.0 L706.0 381.0 L705.0 381.0 L704.0 381.0 L703.0 381.0 L702.0 381.0 L701.0 381.0 L700.0 381.0 L699.0 381.0 L698.0 381.0 L697.0 381.0 L696.0 381.0 L695.0 381.0 L694.0 381.0 L693.0 381.0 L692.0 381.0 L691.0 381.0 L690.0 381.0 L689.0 381.0 L688.0 381.0 L687.0 381.0 L686.0 381.0 L685.0 381.0 L684.0 381.0 L683.0 381.0 L682.0 381.0 L681.0 381.0 L680.0 381.0 L679.0 381.0 L678.0 381.0 L677.0 381.0 L676.0 381.0 L675.0 381.0 L674.0 381.0 L673.0 381.0 L672.0 381.0 L671.0 381.0 L670.0 381.0 L669.0 381.0 L668.0 381.0 L667.0 381.0 L666.0 381.0 L665.0 381.0 L664.0 381.0 L663.0 381.0 L662.0 381.0 L661.0 381.0 L660.0 381.0 L659.0 381.0 L658.0 381.0 L657.0 381.0 L656.0 381.0 L655.0 381.0 L654.0 381.0 L653.0 381.0 L652.0 381.0 L651.0 381.0 L650.0 381.0 L649.0 380.9 L648.0 380.9 L647.0 380.8 L646.0 380.8 L645.0 380.7 L644.0 380.6 L643.0 380.6 L642.0 380.5 L641.0 380.5 L640.0 380.4 L639.0 380.3 L638.0 380.3 L637.0 380.2 L636.0 380.2 L635.0 380.1 L634.0 380.0 L633.0 380.0 L632.0 379.9 L631.0 379.9 L630.0 379.8 L629.0 379.7 L628.0 379.7 L627.0 379.6 L626.0 379.6 L625.0 379.5 L624.0 379.4 L623.0 379.4 L622.0 379.3 L621.0 379.3 L620.0 379.2 L619.0 379.1 L618.0 379.1 L617.0 379.0 L616.0 379.0 L615.0 378.9 L614.0 378.8 L613.0 378.8 L612.0 378.7 L611.0 378.7 L610.0 378.6 L609.0 378.5 L608.0 378.5 L607.0 378.4 L606.0 378.4 L605.0 378.3 L604.0 378.2 L603.0 378.2 L602.0 378.1 L601.0 378.1 L600.0 378.0 L599.0 378.0 L598.0 378.0 L597.0 378.0 L596.0 378.0 L595.0 378.0 L594.0 378.0 L593.0 378.0 L592.0 378.0 L591.0 378.0 L590.0 378.0 L589.0 378.0 L588.0 378.0 L587.0 378.0 L586.0 378.0 L585.0 378.0 L584.0 378.0 L583.0 378.0 L582.0 378.0 L581.0 377.9 L580.0 377.9 L579.0 377.9 L578.0 377.9 L577.0 377.9 L576.0 377.9 L575.0 377.9 L574.0 377.9 L573.0 377.9 L572.0 377.9 L571.0 377.9 L570.0 377.9 L569.0 377.9 L568.0 377.9 L567.0 377.9 L566.0 377.9 L565.0 377.9 L564.0 377.9 L563.0 377.9 L562.0 377.9 L561.0 377.9 L560.0 377.9 L559.0 377.9 L558.0 377.9 L557.0 377.9 L556.0 377.9 L555.0 377.9 L554.0 377.9 L553.0 377.9 L552.0 377.9 L551.0 377.9 L550.0 377.9 L549.0 377.9 L548.0 377.9 L547.0 377.9 L546.0 377.9 L545.0 377.9 L544.0 377.9 L543.0 377.8 L542.0 377.8 L541.0 377.8 L540.0 377.8 L539.0 377.8 L538.0 377.8 L537.0 377.8 L536.0 377.8 L535.0 377.8 L534.0 377.8 L533.0 377.8 L532.0 377.8 L531.0 377.8 L530.0 377.8 L529.0 377.8 L528.0 377.8 L527.0 377.8 L526.0 377.8 L525.0 377.8 L524.0 377.8 L523.0 377.8 L522.0 377.8 L521.0 377.8 L520.0 377.8 L519.0 377.8 L518.0 377.8 L517.0 377.8 L516.0 377.8 L515.0 377.8 L514.0 377.8 L513.0 377.8 L512.0 377.8 L511.0 377.8 L510.0 377.8 L509.0 377.8 L508.0 377.8 L507.0 377.8 L506.0 377.8 L505.0 377.7 L504.0 377.7 L503.0 377.7 L502.0 377.7 L501.0 377.7 L500.0 377.7 L499.0 377.7 L498.0 377.7 L497.0 377.7 L496.0 377.7 L495.0 377.7 L494.0 377.7 L493.0 377.7 L492.0 377.7 L491.0 377.7 L490.0 377.7 L489.0 377.7 L488.0 377.7 L487.0 377.7 L486.0 377.7 L485.0 377.7 L484.0 377.7 L483.0 377.7 L482.0 377.7 L481.0 377.7 L480.0 377.7 L479.0 377.7 L478.0 377.7 L477.0 377.7 L476.0 377.7 L475.0 377.7 L474.0 377.7 L473.0 377.7 L472.0 377.7 L471.0 377.7 L470.0 377.7 L469.0 377.7 L468.0 377.6 L467.0 377.6 L466.0 377.6 L465.0 377.6 L464.0 377.6 L463.0 377.6 L462.0 377.6 L461.0 377.6 L460.0 377.6 L459.0 377.6 L458.0 377.6 L457.0 377.6 L456.0 377.6 L455.0 377.6 L454.0 377.6 L453.0 377.6 L452.0 377.6 L451.0 377.6 L450.0 377.6 L449.0 377.6 L448.0 377.6 L447.0 377.6 L446.0 377.6 L445.0 377.6 L444.0 377.6 L443.0 377.6 L442.0 377.6 L441.0 377.6 L440.0 377.6 L439.0 377.6 L438.0 377.6 L437.0 377.6 L436.0 377.6 L435.0 377.6 L434.0 377.6 L433.0 377.6 L432.0 377.6 L431.0 377.6 L430.0 377.5 L429.0 377.5 L428.0 377.5 L427.0 377.5 L426.0 377.5 L425.0 377.5 L424.0 377.5 L423.0 377.5 L422.0 377.5 L421.0 377.5 L420.0 377.5 L419.0 377.5 L418.0 377.5 L417.0 377.5 L416.0 377.5 L415.0 377.5 L414.0 377.5 L413.0 377.5 L412.0 377.5 L411.0 377.5 L410.0 377.5 L409.0 377.5 L408.0 377.5 L407.0 377.5 L406.0 377.5 L405.0 377.5 L404.0 377.5 L403.0 377.5 L402.0 377.5 L401.0 377.5 L400.0 377.5 L399.0 377.5 L398.0 377.5 L397.0 377.5 L396.0 377.5 L395.0 377.5 L394.0 377.5 L393.0 377.5 L392.0 377.4 L391.0 377.4 L390.0 377.4 L389.0 377.4 L388.0 377.4 L387.0 377.4 L386.0 377.4 L385.0 377.4 L384.0 377.4 L383.0 377.4 L382.0 377.4 L381.0 377.4 L380.0 377.4 L379.0 377.4 L378.0 377.4 L377.0 377.4 L376.0 377.4 L375.0 377.4 L374.0 377.4 L373.0 377.4 L372.0 377.4 L371.0 377.4 L370.0 377.4 L369.0 377.4 L368.0 377.4 L367.0 377.4 L366.0 377.4 L365.0 377.4 L364.0 377.4 L363.0 377.4 L362.0 377.4 L361.0 377.4 L360.0 377.4 L359.0 377.4 L358.0 377.4 L357.0 377.4 L356.0 377.4 L355.0 377.4 L354.0 377.3 L353.0 377.3 L352.0 377.3 L351.0 377.3 L350.0 377.3 L349.0 377.3 L348.0 377.3 L347.0 377.3 L346.0 377.3 L345.0 377.3 L344.0 377.3 L343.0 377.3 L342.0 377.3 L341.0 377.3 L340.0 377.3 L339.0 377.3 L338.0 377.3 L337.0 377.3 L336.0 377.3 L335.0 377.3 L334.0 377.3 L333.0 377.3 L332.0 377.3 L331.0 377.3 L330.0 377.3 L329.0 377.3 L328.0 377.3 L327.0 377.3 L326.0 377.3 L325.0 377.3 L324.0 377.3 L323.0 377.3 L322.0 377.3 L321.0 377.3 L320.0 377.3 L319.0 377.3 L318.0 377.3 L317.0 377.2 L316.0 377.2 L315.0 377.2 L314.0 377.2 L313.0 377.2 L312.0 377.2 L311.0 377.2 L310.0 377.2 L309.0 377.2 L308.0 377.2 L307.0 377.2 L306.0 377.2 L305.0 377.2 L304.0 377.2 L303.0 377.2 L302.0 377.2 L301.0 377.2 L300.0 377.2 L299.0 377.2 L298.0 377.2 L297.0 377.2 L296.0 377.2 L295.0 377.2 L294.0 377.2 L293.0 377.2 L292.0 377.2 L291.0 377.2 L290.0 377.2 L289.0 377.2 L288.0 377.2 L287.0 377.2 L286.0 377.2 L285.0 377.2 L284.0 377.2 L283.0 377.2 L282.0 377.2 L281.0 377.2 L280.0 377.2 L279.0 377.1 L278.0 377.1 L277.0 377.1 L276.0 377.1 L275.0 377.1 L274.0 377.1 L273.0 377.1 L272.0 377.1 L271.0 377.1 L270.0 377.1 L269.0 377.1 L268.0 377.1 L267.0 377.1 L266.0 377.1 L265.0 377.1 L264.0 377.1 L263.0 377.1 L262.0 377.1 L261.0 377.1 L260.0 377.1 L259.0 377.1 L258.0 377.1 L257.0 377.1 L256.0 377.1 L255.0 377.1 L254.0 377.1 L253.0 377.1 L252.0 377.1 L251.0 377.1 L250.0 377.1 L249.0 377.1 L248.0 377.1 L247.0 377.1 L246.0 377.1 L245.0 377.1 L244.0 377.1 L243.0 377.1 L242.0 377.1 L241.0 377.0 L240.0 377.0 L239.0 377.0 L238.0 377.0 L237.0 377.0 L236.0 377.0 L235.0 377.0 L234.0 377.0 L233.0 377.0 L232.0 377.0 L231.0 377.0 L230.0 377.0 L229.0 377.0 L228.0 377.0 L227.0 377.0 L226.0 377.0 L225.0 377.0 L224.0 377.0 L223.0 422.0 L222.0 434.0 L221.0 456.7 L220.0 490.0 L219.0 498.4 L218.0 506.8 L217.0 515.2 L216.0 523.6 L215.0 532.0 L214.0 544.8 L213.0 557.7 L212.0 570.5 L211.0 583.3 L210.0 596.2 L209.0 602.5 L208.0 606.0 L207.0 609.5 L206.0 613.0 L205.0 616.5 L204.0 620.0 L203.0 623.6 L202.0 627.1 L201.0 630.6 L200.0 639.0 L199.0 650.6 L198.0 662.2 L197.0 672.4 L196.0 681.2 L195.0 690.0 L194.0 692.1 L193.0 694.2 L192.0 696.3 L191.0 698.4 L190.0 700.5 L189.0 702.6 L188.0 704.7 L187.0 706.8 L186.0 708.9 L185.0 711.0 L184.0 713.0 L183.0 715.0 L182.0 717.0 L181.0 719.0 L180.0 721.0 L179.0 723.0 L178.0 725.0 L177.0 727.0 L176.0 729.0 L175.0 731.0 L174.0 731.6 L173.0 732.1 L172.0 732.7 L171.0 733.3 L170.0 733.9 L169.0 734.4 L168.0 735.0 L167.0 735.6 L166.0 736.1 L165.0 736.7 L164.0 737.3 L163.0 737.9 L162.0 738.4 L161.0 739.0Z" fill="#0072BD"/>
<path d="M160.50 495.2V810.8M161.00 494.9V829.3M161.50 496.6V772.1M162.00 473.6V790.5M162.50 496.3V826.5M163.00 495.1V792.9M163.50 497.3V794.7M164.00 497.3V829.3M164.50 497.6V814.7M165.00 496.0V807.4M165.50 468.7V796.3M166.00 496.9V774.6M166.50 497.2V794.3M167.00 496.8V818.9M167.50 495.8V808.0M168.00 494.2V791.2M168.50 492.6V829.3M169.00 491.5V829.3M169.50 457.4V785.7M170.00 490.1V808.0M170.50 489.1V829.3M171.00 488.9V783.6M171.50 489.0V779.9M172.00 489.3V804.3M172.50 490.6V829.3M173.00 493.2V815.3M173.50 460.7V781.2M174.00 494.9V787.3M174.50 494.6V827.0M175.00 495.2V793.7M175.50 496.2V759.6M176.00 496.8V754.1M176.50 497.2V809.4M177.00 473.1V776.0M177.50 495.1V766.6M178.00 493.9V793.8M178.50 495.0V752.0M179.00 495.5V763.5M179.50 495.0V828.4M180.00 491.9V829.3M180.50 489.6V795.7M181.00 461.2V778.0M181.50 489.6V744.1M182.00 491.7V735.2M182.50 494.1V773.6M183.00 495.8V769.7M183.50 480.7V766.9M184.00 498.2V784.6M184.50 498.2V764.4M185.00 495.8V770.2M185.50 434.3V829.3M186.00 492.4V821.8M186.50 491.6V790.4M187.00 490.5V765.5M187.50 489.0V745.2M188.00 489.6V734.1M188.50 489.8V711.3M189.00 490.7V709.2M189.50 474.9V741.4M190.00 488.8V776.3M190.50 487.9V755.1M191.00 487.0V774.0M191.50 487.4V796.9M192.00 475.6V733.2M192.50 486.8V730.4M193.00 486.2V745.8M193.50 486.7V792.3M194.00 478.5V782.9M194.50 485.6V797.2M195.00 486.4V797.3M195.50 482.8V749.4M196.00 475.9V732.3M196.50 471.0V763.4M197.00 467.0V759.8M197.50 432.7V784.8M198.00 458.9V747.9M198.50 454.4V743.2M199.00 450.6V714.8M199.50 446.6V691.2M200.00 442.9V680.1M200.50 438.4V654.6M201.00 433.3V653.5M201.50 428.7V675.2M202.00 424.9V672.0M202.50 421.0V693.7M203.00 416.1V640.4M203.50 410.2V642.2M204.00 402.9V680.3M204.50 397.2V667.7M205.00 392.3V635.9M205.50 387.3V635.5M206.00 381.1V647.0M206.50 376.4V713.4M207.00 372.2V675.9M207.50 368.1V643.1M208.00 364.2V638.1M208.50 360.3V668.7M209.00 356.9V676.1M209.50 353.2V666.2M210.00 349.0V661.6M210.50 344.4V746.9M211.00 340.4V644.0M211.50 337.1V628.2M212.00 333.7V649.5M212.50 329.9V651.1M213.00 326.4V625.0M213.50 324.1V628.5M214.00 321.5V614.6M214.50 318.3V612.4M215.00 313.3V613.1M215.50 308.9V597.8M216.00 305.6V610.4M216.50 303.4V562.7M217.00 300.4V555.5M217.50 296.0V542.3M218.00 291.0V528.4M218.50 286.2V554.1M219.00 278.9V592.2M219.50 270.2V634.0M220.00 261.7V564.1M220.50 255.4V489.6M221.00 249.0V480.6M221.50 237.5V551.2M222.00 195.9V682.9M222.50 194.4V455.4M223.00 191.8V427.8M223.50 183.7V436.5M224.00 184.4V460.8M224.50 190.3V516.2M225.00 195.1V590.0M225.50 197.6V423.0M226.00 198.9V431.8M226.50 200.7V426.6M227.00 200.2V416.0M227.50 198.5V428.6M228.00 195.3V543.7M228.50 192.8V440.3M229.00 186.9V423.8M229.50 186.4V429.8M230.00 189.4V459.9M230.50 192.0V483.3M231.00 193.4V483.1M231.50 193.2V437.4M232.00 187.9V421.6M232.50 190.8V436.5M233.00 193.0V499.0M233.50 195.9V462.4M234.00 197.9V444.5M234.50 184.5V430.1M235.00 183.6V436.6M235.50 192.1V523.7M236.00 191.7V464.6M236.50 202.8V437.2M237.00 187.3V438.6M237.50 201.6V460.9M238.00 198.3V407.8M238.50 197.2V407.8M239.00 197.1V437.2M239.50 197.9V441.8M240.00 188.3V473.3M240.50 186.4V536.0M241.00 192.5V453.8M241.50 191.5V487.5M242.00 191.8V514.5M242.50 192.0V476.5M243.00 193.9V451.5M243.50 195.1V429.2M244.00 184.3V419.4M244.50 197.9V443.4M245.00 197.7V482.2M245.50 196.5V451.6M246.00 195.1V428.3M246.50 182.2V416.1M247.00 182.0V424.5M247.50 192.5V493.2M248.00 188.2V441.5M248.50 195.1V417.6M249.00 195.3V416.9M249.50 193.8V437.7M250.00 193.8V469.3M250.50 189.3V496.5M251.00 180.2V458.7M251.50 180.3V533.0M252.00 193.1V483.3M252.50 193.2V548.3M253.00 191.8V521.0M253.50 191.9V467.8M254.00 193.2V452.6M254.50 195.1V474.9M255.00 194.7V412.3M255.50 192.5V423.3M256.00 192.5V470.8M256.50 187.1V483.7M257.00 189.5V436.3M257.50 192.7V437.6M258.00 194.9V446.8M258.50 193.9V448.4M259.00 194.2V434.2M259.50 195.7V449.2M260.00 197.3V469.7M260.50 198.6V472.5M261.00 198.3V513.8M261.50 194.4V437.5M262.00 197.2V415.6M262.50 192.2V436.1M263.00 192.1V474.0M263.50 183.3V480.3M264.00 182.3V438.8M264.50 194.3V406.1M265.00 193.1V406.6M265.50 194.3V420.3M266.00 196.9V445.8M266.50 199.2V435.7M267.00 199.3V427.5M267.50 197.1V433.5M268.00 195.7V456.4M268.50 194.6V473.9M269.00 179.6V437.5M269.50 178.1V458.7M270.00 187.3V455.1M270.50 190.4V446.4M271.00 189.6V424.7M271.50 189.2V436.5M272.00 187.6V467.7M272.50 188.6V443.4M273.00 192.2V439.4M273.50 196.6V447.5M274.00 187.5V434.7M274.50 187.0V417.3M275.00 192.7V431.4M275.50 193.4V462.3M276.00 192.0V438.7M276.50 192.8V471.5M277.00 194.4V487.6M277.50 195.6V467.6M278.00 195.5V452.3M278.50 194.1V434.4M279.00 192.0V457.2M279.50 183.4V524.1M280.00 184.1V442.7M280.50 191.5V408.0M281.00 196.4V411.1M281.50 198.5V451.2M282.00 199.6V503.5M282.50 198.8V448.1M283.00 198.8V424.0M283.50 199.3V425.4M284.00 199.4V462.2M284.50 198.8V714.0M285.00 195.5V415.4M285.50 189.0V411.9M286.00 189.6V418.4M286.50 199.5V427.1M287.00 197.9V450.5M287.50 197.9V434.5M288.00 198.1V422.1M288.50 198.2V417.2M289.00 196.5V437.3M289.50 192.4V446.3M290.00 192.2V473.1M290.50 173.1V460.3M291.00 172.6V436.4M291.50 194.8V410.7M292.00 195.5V413.0M292.50 195.4V425.4M293.00 194.4V415.4M293.50 193.0V478.0M294.00 178.6V432.7M294.50 190.1V410.2M295.00 191.5V419.6M295.50 194.3V418.9M296.00 189.7V490.1M296.50 190.0V461.8M297.00 194.0V432.1M297.50 196.7V455.4M298.00 197.0V433.6M298.50 193.1V408.0M299.00 197.6V433.9M299.50 196.6V473.3M300.00 194.7V477.7M300.50 187.9V414.5M301.00 180.3V408.0M301.50 182.2V418.5M302.00 192.9V450.9M302.50 196.1V510.8M303.00 195.1V499.1M303.50 194.2V469.4M304.00 194.4V468.1M304.50 193.0V439.4M305.00 188.3V437.0M305.50 193.1V435.0M306.00 194.0V496.1M306.50 192.4V489.7M307.00 191.4V468.8M307.50 191.6V446.9M308.00 168.0V446.9M308.50 169.5V424.5M309.00 187.8V466.1M309.50 198.5V501.7M310.00 200.7V465.3M310.50 197.9V467.5M311.00 196.1V483.0M311.50 193.0V434.1M312.00 191.9V507.0M312.50 186.5V448.8M313.00 178.3V484.3M313.50 181.6V477.9M314.00 196.5V469.9M314.50 197.8V505.6M315.00 198.0V438.2M315.50 184.1V410.0M316.00 199.1V408.8M316.50 196.3V437.2M317.00 189.9V432.1M317.50 186.6V422.5M318.00 182.2V408.0M318.50 183.0V491.3M319.00 190.5V459.7M319.50 185.6V448.8M320.00 199.0V432.2M320.50 200.1V407.2M321.00 197.5V416.9M321.50 192.0V438.1M322.00 191.0V455.4M322.50 191.8V485.6M323.00 196.1V469.7M323.50 196.4V539.2M324.00 188.6V481.5M324.50 188.4V439.7M325.00 199.7V433.4M325.50 197.4V452.3M326.00 197.1V505.8M326.50 197.9V472.5M327.00 198.6V483.0M327.50 198.5V479.8M328.00 197.8V476.9M328.50 179.2V490.5M329.00 177.7V441.5M329.50 188.1V444.9M330.00 192.2V479.5M330.50 189.9V436.7M331.00 189.2V410.8M331.50 189.8V414.4M332.00 193.5V471.7M332.50 196.1V471.6M333.00 197.8V465.6M333.50 198.1V466.3M334.00 196.0V487.0M334.50 179.6V484.4M335.00 176.8V425.2M335.50 188.3V406.7M336.00 197.6V494.0M336.50 202.4V431.2M337.00 202.5V438.1M337.50 198.5V435.1M338.00 193.2V440.6M338.50 190.6V470.0M339.00 193.1V494.8M339.50 195.6V436.1M340.00 197.4V417.0M340.50 195.4V435.0M341.00 194.2V463.9M341.50 179.3V423.0M342.00 180.6V438.2M342.50 190.1V488.5M343.00 196.0V457.4M343.50 184.3V460.9M344.00 196.1V434.7M344.50 196.4V442.9M345.00 196.9V487.3M345.50 197.3V475.5M346.00 192.2V478.5M346.50 183.3V446.7M347.00 183.5V435.4M347.50 187.3V508.0M348.00 190.2V420.3M348.50 198.7V436.2M349.00 196.2V457.1M349.50 194.6V448.8M350.00 193.8V443.0M350.50 176.8V424.0M351.00 195.0V420.4M351.50 185.9V475.5M352.00 188.1V422.6M352.50 194.1V407.2M353.00 194.4V418.2M353.50 195.6V438.8M354.00 193.3V603.0M354.50 194.1V478.5M355.00 194.0V439.9M355.50 195.9V438.8M356.00 196.7V489.9M356.50 198.7V468.2M357.00 192.4V495.1M357.50 192.3V480.9M358.00 195.5V472.8M358.50 197.1V514.2M359.00 196.0V437.6M359.50 195.7V416.7M360.00 194.9V438.0M360.50 194.5V496.7M361.00 195.2V550.5M361.50 196.2V544.4M362.00 192.0V513.0M362.50 197.5V492.8M363.00 192.6V447.9M363.50 183.1V422.5M364.00 184.5V406.4M364.50 202.3V406.4M365.00 199.8V436.6M365.50 197.3V440.2M366.00 196.3V416.7M366.50 196.8V469.1M367.00 197.1V446.2M367.50 196.0V442.3M368.00 177.9V534.3M368.50 177.3V481.3M369.00 189.4V488.5M369.50 192.7V446.8M370.00 192.0V433.4M370.50 192.9V437.3M371.00 193.4V503.1M371.50 194.3V474.6M372.00 196.0V463.6M372.50 198.1V488.2M373.00 200.5V462.4M373.50 195.8V424.6M374.00 186.7V438.5M374.50 184.0V516.9M375.00 194.9V492.5M375.50 194.3V480.8M376.00 190.8V463.7M376.50 197.6V439.1M377.00 197.4V441.7M377.50 195.4V450.9M378.00 193.2V452.4M378.50 192.9V468.5M379.00 192.2V504.1M379.50 182.1V451.4M380.00 181.3V418.6M380.50 195.1V411.2M381.00 197.6V408.2M381.50 200.3V454.9M382.00 193.3V511.2M382.50 197.6V461.7M383.00 195.8V419.9M383.50 195.6V443.4M384.00 196.3V491.4M384.50 194.2V466.1M385.00 200.7V493.4M385.50 187.8V453.9M386.00 186.5V408.6M386.50 193.9V409.1M387.00 195.1V468.3M387.50 192.6V473.9M388.00 189.9V433.5M388.50 196.8V424.2M389.00 201.1V480.9M389.50 200.6V473.3M390.00 197.4V489.9M390.50 193.8V449.0M391.00 191.5V452.1M391.50 188.9V464.1M392.00 191.4V525.1M392.50 199.1V438.8M393.00 197.9V450.0M393.50 196.9V467.5M394.00 196.9V423.9M394.50 198.7V572.0M395.00 199.7V476.2M395.50 199.8V481.1M396.00 197.5V450.0M396.50 184.5V407.7M397.00 183.6V414.2M397.50 192.5V460.7M398.00 191.1V453.0M398.50 196.3V486.4M399.00 195.3V445.9M399.50 193.0V433.7M400.00 191.3V411.0M400.50 191.8V426.0M401.00 182.4V448.0M401.50 184.7V517.8M402.00 190.7V455.0M402.50 196.2V435.1M403.00 195.4V456.4M403.50 195.6V453.0M404.00 188.5V498.9M404.50 196.7V447.3M405.00 197.8V445.9M405.50 196.6V443.5M406.00 195.5V433.6M406.50 195.2V438.8M407.00 193.9V441.3M407.50 186.4V416.2M408.00 185.2V423.8M408.50 189.4V415.1M409.00 192.1V406.9M409.50 187.5V423.8M410.00 192.9V459.6M410.50 194.8V500.8M411.00 196.0V426.6M411.50 190.2V417.2M412.00 197.9V431.9M412.50 199.0V448.1M413.00 199.1V445.4M413.50 176.5V572.0M414.00 175.2V415.4M414.50 190.1V411.0M415.00 190.8V437.2M415.50 196.6V525.5M416.00 197.0V416.5M416.50 195.8V407.7M417.00 185.8V457.1M417.50 192.4V438.2M418.00 188.5V450.3M418.50 188.5V507.4M419.00 197.5V529.7M419.50 200.3V499.4M420.00 200.2V458.3M420.50 197.1V501.8M421.00 179.8V465.6M421.50 191.3V435.7M422.00 192.1V408.2M422.50 194.3V407.4M423.00 196.6V459.7M423.50 197.3V461.8M424.00 196.6V448.7M424.50 194.8V411.1M425.00 168.1V444.3M425.50 170.2V511.0M426.00 184.5V492.9M426.50 195.6V417.0M427.00 197.9V434.1M427.50 193.5V510.0M428.00 196.6V452.5M428.50 193.9V481.1M429.00 191.4V461.5M429.50 182.2V419.6M430.00 182.8V446.8M430.50 194.8V493.6M431.00 198.2V478.6M431.50 200.3V470.5M432.00 189.8V437.7M432.50 198.3V424.3M433.00 185.0V416.8M433.50 192.4V425.8M434.00 197.4V425.0M434.50 194.4V408.4M435.00 194.0V407.5M435.50 195.4V421.9M436.00 195.0V503.1M436.50 195.5V459.5M437.00 194.0V439.7M437.50 197.9V455.1M438.00 196.6V451.8M438.50 194.4V493.0M439.00 192.0V545.1M439.50 191.5V477.9M440.00 190.0V497.9M440.50 185.7V461.8M441.00 184.5V496.4M441.50 189.1V544.8M442.00 190.1V437.2M442.50 191.8V424.4M443.00 194.0V461.8M443.50 196.7V436.3M444.00 199.3V472.8M444.50 199.6V476.4M445.00 198.7V468.1M445.50 177.3V459.7M446.00 174.7V440.9M446.50 190.9V492.0M447.00 180.6V464.7M447.50 194.9V429.8M448.00 195.7V454.2M448.50 196.6V451.8M449.00 195.5V485.4M449.50 195.2V500.7M450.00 196.3V482.5M450.50 198.0V492.3M451.00 196.7V536.4M451.50 192.0V501.3M452.00 178.6V498.6M452.50 179.0V468.1M453.00 190.6V440.9M453.50 190.1V426.0M454.00 188.0V439.8M454.50 190.1V466.0M455.00 188.8V416.4M455.50 198.7V406.6M456.00 198.9V407.1M456.50 197.9V442.1M457.00 183.7V519.4M457.50 184.8V530.9M458.00 188.6V551.4M458.50 198.2V500.2M459.00 196.6V435.2M459.50 195.6V411.1M460.00 195.3V408.8M460.50 197.0V415.2M461.00 199.1V467.7M461.50 200.7V445.0M462.00 199.8V448.0M462.50 199.1V497.8M463.00 191.9V511.9M463.50 171.6V497.1M464.00 171.9V426.2M464.50 199.4V438.5M465.00 200.5V463.4M465.50 201.6V420.7M466.00 200.7V417.9M466.50 180.7V409.5M467.00 187.1V413.8M467.50 191.9V432.8M468.00 193.5V408.4M468.50 187.1V407.1M469.00 177.1V420.2M469.50 175.2V463.2M470.00 193.1V485.3M470.50 193.4V526.6M471.00 195.5V466.7M471.50 194.5V460.9M472.00 195.5V505.9M472.50 194.9V472.1M473.00 195.7V520.4M473.50 193.9V517.1M474.00 194.4V493.1M474.50 185.7V442.7M475.00 187.2V481.6M475.50 185.6V466.2M476.00 195.6V441.4M476.50 195.5V489.0M477.00 195.3V471.9M477.50 195.5V469.2M478.00 194.8V435.1M478.50 188.9V426.9M479.00 185.3V444.8M479.50 170.2V442.2M480.00 167.3V416.8M480.50 199.3V425.3M481.00 197.6V470.4M481.50 194.5V547.8M482.00 190.2V515.8M482.50 188.3V497.7M483.00 190.7V428.2M483.50 196.1V413.1M484.00 200.9V433.2M484.50 201.1V435.6M485.00 198.2V437.0M485.50 172.2V465.1M486.00 168.7V426.7M486.50 180.4V463.2M487.00 192.1V551.4M487.50 188.7V490.7M488.00 194.3V437.5M488.50 194.9V442.1M489.00 195.6V441.4M489.50 198.0V413.4M490.00 194.0V427.9M490.50 179.0V408.5M491.00 176.8V420.6M491.50 194.4V471.7M492.00 194.1V501.4M492.50 195.4V452.9M493.00 194.8V432.8M493.50 196.1V444.2M494.00 195.0V447.9M494.50 194.4V442.5M495.00 192.4V452.5M495.50 191.9V476.5M496.00 190.9V411.8M496.50 184.6V436.0M497.00 185.3V426.5M497.50 192.5V411.1M498.00 196.0V429.3M498.50 196.9V485.3M499.00 196.0V539.1M499.50 197.3V466.4M500.00 199.1V424.3M500.50 199.5V419.8M501.00 197.5V440.3M501.50 192.7V439.7M502.00 182.4V515.0M502.50 183.6V469.9M503.00 196.7V498.5M503.50 198.9V473.3M504.00 199.1V432.5M504.50 198.3V440.8M505.00 197.6V438.8M505.50 198.2V440.3M506.00 198.8V444.5M506.50 192.2V444.6M507.00 180.2V447.9M507.50 181.3V491.0M508.00 201.3V430.8M508.50 201.4V452.3M509.00 200.7V471.0M509.50 199.6V465.4M510.00 197.7V469.4M510.50 195.5V485.9M511.00 194.4V437.6M511.50 194.0V449.7M512.00 194.7V498.6M512.50 194.8V478.6M513.00 194.6V488.6M513.50 184.5V476.3M514.00 184.9V464.7M514.50 192.5V458.2M515.00 196.0V444.2M515.50 196.5V471.8M516.00 197.3V478.0M516.50 199.4V474.7M517.00 200.5V433.9M517.50 197.6V443.7M518.00 183.2V431.6M518.50 180.9V433.7M519.00 195.1V454.7M519.50 196.8V437.5M520.00 198.7V439.6M520.50 186.0V463.2M521.00 200.9V486.9M521.50 200.8V469.9M522.00 200.5V508.7M522.50 199.0V439.2M523.00 198.7V454.8M523.50 179.7V538.2M524.00 180.0V470.0M524.50 194.5V457.6M525.00 199.6V447.4M525.50 198.4V448.6M526.00 195.4V425.5M526.50 194.5V407.3M527.00 194.5V408.2M527.50 194.3V408.2M528.00 181.9V410.3M528.50 193.2V415.3M529.00 194.4V433.5M529.50 193.8V451.4M530.00 193.7V541.1M530.50 186.5V427.2M531.00 188.1V433.8M531.50 195.8V470.3M532.00 196.3V447.4M532.50 194.6V480.2M533.00 194.0V507.6M533.50 195.3V509.0M534.00 197.7V493.9M534.50 198.0V480.8M535.00 192.3V481.0M535.50 184.6V489.8M536.00 183.3V453.3M536.50 195.1V524.0M537.00 194.7V471.7M537.50 196.2V536.0M538.00 196.2V434.1M538.50 197.6V425.4M539.00 198.5V457.1M539.50 198.3V521.7M540.00 196.2V479.9M540.50 186.3V488.3M541.00 189.3V488.8M541.50 194.1V498.3M542.00 198.2V467.3M542.50 197.8V423.3M543.00 197.2V468.8M543.50 195.1V443.1M544.00 195.4V408.6M544.50 196.6V418.8M545.00 197.5V632.0M545.50 196.9V443.7M546.00 193.6V469.0M546.50 182.6V504.4M547.00 180.5V437.6M547.50 186.4V485.0M548.00 185.8V431.7M548.50 191.7V409.5M549.00 192.6V423.5M549.50 194.0V416.7M550.00 195.0V408.7M550.50 196.9V408.2M551.00 196.5V425.5M551.50 186.8V497.8M552.00 186.3V429.4M552.50 185.9V503.4M553.00 194.4V447.2M553.50 192.7V439.2M554.00 193.6V421.4M554.50 196.1V414.5M555.00 196.2V407.5M555.50 196.6V406.9M556.00 196.5V406.9M556.50 196.9V411.3M557.00 194.5V466.4M557.50 188.3V478.8M558.00 177.0V445.7M558.50 182.6V470.6M559.00 204.2V440.5M559.50 203.5V479.7M560.00 199.0V508.5M560.50 196.4V541.4M561.00 193.2V493.9M561.50 182.2V459.1M562.00 186.6V521.3M562.50 168.5V444.2M563.00 169.6V443.5M563.50 196.0V434.4M564.00 198.7V434.2M564.50 199.1V441.2M565.00 198.4V418.9M565.50 197.1V408.7M566.00 198.3V442.6M566.50 198.4V479.9M567.00 197.0V463.4M567.50 192.9V437.1M568.00 176.0V437.9M568.50 179.2V446.1M569.00 193.9V439.6M569.50 201.4V431.1M570.00 200.8V416.5M570.50 200.4V412.6M571.00 199.9V438.4M571.50 199.2V508.6M572.00 197.8V506.3M572.50 197.3V466.4M573.00 194.2V449.2M573.50 188.9V445.6M574.00 189.2V447.2M574.50 198.0V453.6M575.00 200.6V447.5M575.50 201.8V473.3M576.00 203.2V532.7M576.50 204.1V481.6M577.00 205.7V516.6M577.50 205.5V469.7M578.00 205.4V455.6M578.50 194.4V442.0M579.00 189.5V411.4M579.50 189.6V408.7M580.00 200.4V419.8M580.50 204.4V444.9M581.00 203.0V452.8M581.50 200.4V515.3M582.00 198.8V450.9M582.50 198.1V466.8M583.00 174.1V478.9M583.50 196.7V445.5M584.00 194.6V465.6M584.50 193.2V439.4M585.00 172.5V446.9M585.50 173.8V547.9M586.00 188.8V494.1M586.50 197.3V471.7M587.00 198.6V438.7M587.50 198.1V472.2M588.00 200.6V441.1M588.50 202.8V408.8M589.00 205.1V434.1M589.50 204.5V476.1M590.00 202.7V485.2M590.50 183.7V463.9M591.00 183.2V480.8M591.50 195.5V468.0M592.00 200.9V454.0M592.50 201.1V500.3M593.00 200.4V460.9M593.50 202.1V442.8M594.00 196.4V434.1M594.50 197.6V434.3M595.00 202.4V436.4M595.50 202.4V418.0M596.00 196.9V407.9M596.50 198.0V439.2M597.00 193.1V434.3M597.50 203.0V412.8M598.00 201.7V463.2M598.50 198.6V482.4M599.00 198.0V444.9M599.50 197.0V454.4M600.00 197.6V473.0M600.50 196.8V452.6M601.00 198.6V471.6M601.50 201.3V600.0M602.00 204.4V471.7M602.50 196.1V443.9M603.00 195.3V455.9M603.50 198.4V450.0M604.00 198.5V468.3M604.50 196.1V422.1M605.00 197.6V407.3M605.50 196.8V453.5M606.00 205.6V501.3M606.50 199.5V505.8M607.00 199.3V422.1M607.50 205.8V441.7M608.00 209.0V472.0M608.50 209.7V486.1M609.00 208.4V500.6M609.50 202.6V487.1M610.00 205.3V547.0M610.50 202.2V423.2M611.00 200.3V410.9M611.50 193.5V421.5M612.00 201.5V436.2M612.50 202.5V488.5M613.00 189.9V450.8M613.50 189.9V411.8M614.00 200.3V416.8M614.50 203.3V435.1M615.00 201.7V473.6M615.50 202.0V492.5M616.00 199.9V433.1M616.50 200.8V427.8M617.00 200.1V434.9M617.50 199.7V409.8M618.00 187.1V409.2M618.50 185.9V425.9M619.00 196.4V457.0M619.50 200.0V446.3M620.00 200.2V472.4M620.50 197.5V535.8M621.00 195.9V437.3M621.50 196.8V410.1M622.00 191.0V412.8M622.50 200.6V463.0M623.00 201.0V468.4M623.50 185.2V508.9M624.00 194.9V460.8M624.50 205.8V466.0M625.00 203.3V419.1M625.50 201.8V421.4M626.00 201.4V423.5M626.50 201.9V411.2M627.00 203.3V436.6M627.50 204.6V436.4M628.00 206.1V433.8M628.50 207.9V431.0M629.00 194.6V457.4M629.50 195.4V440.1M630.00 204.6V445.0M630.50 205.9V439.5M631.00 203.6V446.6M631.50 195.2V417.8M632.00 203.9V409.8M632.50 204.2V419.4M633.00 205.6V411.2M633.50 207.7V409.8M634.00 210.4V445.1M634.50 206.3V501.5M635.00 205.6V521.3M635.50 204.0V504.9M636.00 207.1V559.2M636.50 207.7V460.3M637.00 204.5V447.8M637.50 207.9V452.6M638.00 207.5V485.8M638.50 206.6V474.6M639.00 207.0V426.2M639.50 201.1V412.0M640.00 198.9V436.0M640.50 196.2V479.1M641.00 199.7V423.9M641.50 199.5V461.2M642.00 200.8V443.6M642.50 202.2V457.0M643.00 206.5V466.5M643.50 207.8V497.2M644.00 208.7V490.9M644.50 208.2V458.8M645.00 206.8V434.5M645.50 205.5V437.4M646.00 203.5V443.8M646.50 204.4V678.0M647.00 192.0V409.8M647.50 192.7V409.9M648.00 201.9V434.7M648.50 200.4V447.5M649.00 199.5V452.4M649.50 201.7V511.9M650.00 205.8V538.5M650.50 201.7V492.0M651.00 197.4V518.9M651.50 198.7V428.5M652.00 196.2V410.7M652.50 190.4V411.8M653.00 193.7V440.9M653.50 204.6V479.9M654.00 205.1V498.5M654.50 204.0V453.7M655.00 203.0V443.9M655.50 203.3V449.4M656.00 204.9V463.1M656.50 196.9V462.0M657.00 176.7V432.2M657.50 178.1V483.4M658.00 208.8V500.2M658.50 206.7V538.6M659.00 204.7V487.2M659.50 206.1V457.6M660.00 207.6V471.7M660.50 208.8V492.0M661.00 208.5V497.2M661.50 206.9V457.8M662.00 202.9V443.1M662.50 200.8V444.2M663.00 193.8V440.9M663.50 189.3V443.8M664.00 190.7V506.5M664.50 206.8V525.5M665.00 203.6V513.7M665.50 202.4V494.2M666.00 203.4V439.7M666.50 203.0V469.0M667.00 190.6V437.6M667.50 207.9V444.5M668.00 198.3V464.4M668.50 178.6V433.1M669.00 178.3V433.6M669.50 210.8V411.8M670.00 207.4V410.0M670.50 206.8V416.0M671.00 208.0V489.6M671.50 203.2V513.2M672.00 190.9V442.6M672.50 209.7V432.0M673.00 183.9V487.0M673.50 208.9V482.7M674.00 212.5V420.0M674.50 214.6V421.0M675.00 182.5V446.0M675.50 177.6V454.5M676.00 195.5V518.5M676.50 204.4V431.1M677.00 206.9V493.4M677.50 208.5V437.1M678.00 208.6V416.0M678.50 207.2V410.0M679.00 204.5V421.8M679.50 193.9V442.3M680.00 194.7V570.0M680.50 209.2V515.5M681.00 209.5V498.0M681.50 210.3V495.3M682.00 193.2V440.2M682.50 209.5V450.6M683.00 208.6V526.9M683.50 207.7V435.9M684.00 206.6V433.5M684.50 202.2V438.2M685.00 205.5V470.7M685.50 202.3V499.9M686.00 204.1V507.2M686.50 210.3V504.9M687.00 210.1V479.2M687.50 203.8V449.5M688.00 208.1V418.1M688.50 207.8V412.0M689.00 206.9V461.6M689.50 208.5V522.0M690.00 207.9V491.6M690.50 196.4V483.9M691.00 185.5V466.9M691.50 187.6V438.8M692.00 211.5V460.6M692.50 214.7V462.2M693.00 216.6V492.5M693.50 216.4V520.3M694.00 216.3V522.9M694.50 212.5V480.7M695.00 210.6V470.4M695.50 208.7V475.2M696.00 210.4V496.0M696.50 211.6V443.7M697.00 199.1V445.7M697.50 197.8V525.3M698.00 208.7V447.6M698.50 212.8V434.6M699.00 215.8V449.1M699.50 217.7V450.3M700.00 216.1V517.1M700.50 213.8V510.4M701.00 211.5V563.0M701.50 206.3V467.9M702.00 208.9V438.4M702.50 192.9V443.9M703.00 193.6V437.3M703.50 196.8V482.4M704.00 211.1V463.5M704.50 212.8V443.4M705.00 215.7V444.2M705.50 199.1V457.5M706.00 213.9V460.1M706.50 206.8V462.0M707.00 209.0V494.3M707.50 194.7V414.8M708.00 200.1V410.7M708.50 201.2V416.6M709.00 199.7V431.5M709.50 213.0V517.7M710.00 212.0V492.5M710.50 197.4V530.8M711.00 209.1V505.0M711.50 208.8V498.8M712.00 209.5V500.0M712.50 206.5V437.1M713.00 202.6V440.3M713.50 203.3V442.4M714.00 211.4V472.3M714.50 210.1V477.4M715.00 210.3V465.5M715.50 212.4V527.0M716.00 214.2V498.2M716.50 213.8V432.4M717.00 212.8V438.7M717.50 212.4V418.9M718.00 214.3V425.2M718.50 215.1V433.0M719.00 203.9V421.3M719.50 201.9V437.7M720.00 200.5V415.2M720.50 210.3V411.3M721.00 213.7V440.5M721.50 213.1V466.3M722.00 192.0V510.9M722.50 207.3V498.9M723.00 209.7V489.7M723.50 213.6V505.4M724.00 215.5V514.1M724.50 212.2V488.0M725.00 214.2V450.6M725.50 222.7V457.0M726.00 220.2V439.7M726.50 216.9V453.1M727.00 214.4V481.6M727.50 214.5V451.4M728.00 214.7V423.3M728.50 215.0V441.7M729.00 214.8V485.7M729.50 214.3V440.1M730.00 208.5V437.6M730.50 199.8V427.9M731.00 199.6V411.8M731.50 213.7V411.8M732.00 212.6V415.3M732.50 211.9V449.0M733.00 209.0V465.5M733.50 208.6V419.8M734.00 208.6V420.1M734.50 211.4V412.9M735.00 213.4V410.9M735.50 214.6V423.8M736.00 194.0V453.3M736.50 194.2V450.1M737.00 209.2V442.4M737.50 214.6V438.6M738.00 213.5V421.7M738.50 211.4V422.5M739.00 211.8V458.3M739.50 208.9V499.9M740.00 213.6V467.5M740.50 214.3V461.0M741.00 190.2V432.4M741.50 189.0V412.2M742.00 204.5V419.2M742.50 210.4V448.7M743.00 209.6V507.9M743.50 192.7V472.7M744.00 212.9V425.0M744.50 216.4V420.7M745.00 216.4V411.9M745.50 218.7V432.1M746.00 218.5V522.3M746.50 201.4V497.8M747.00 200.5V517.5M747.50 213.6V446.8M748.00 219.6V479.1M748.50 221.1V518.2M749.00 221.5V526.5M749.50 219.4V472.4M750.00 213.7V525.9M750.50 203.0V442.0M751.00 207.1V448.2M751.50 210.5V458.2M752.00 214.3V468.5M752.50 198.4V554.0M753.00 197.3V461.6M753.50 207.7V494.6M754.00 212.6V486.9M754.50 207.0V423.0M755.00 212.4V438.7M755.50 203.1V581.0M756.00 211.5V457.4M756.50 202.0V446.8M757.00 181.7V457.3M757.50 180.9V484.4M758.00 210.2V431.0M758.50 209.3V497.7M759.00 205.9V449.9M759.50 197.8V421.0M760.00 213.8V437.0M760.50 216.4V484.3M761.00 214.5V439.7M761.50 212.2V428.6M762.00 208.4V434.5M762.50 193.4V447.3M763.00 193.3V483.4M763.50 205.5V546.1M764.00 201.2V503.1M764.50 210.1V477.6M765.00 210.2V457.2M765.50 210.4V426.0M766.00 212.8V439.8M766.50 214.5V505.8M767.00 215.2V449.6M767.50 215.1V411.8M768.00 214.0V411.7M768.50 208.1V443.0M769.00 191.3V442.3M769.50 191.9V446.3M770.00 213.8V430.9M770.50 212.7V440.1M771.00 210.9V460.9M771.50 210.5V424.2M772.00 209.0V411.8M772.50 209.5V431.2M773.00 210.1V452.4M773.50 211.1V478.3M774.00 210.7V452.3M774.50 184.2V453.8M775.00 188.4V459.0M775.50 215.9V492.8M776.00 207.8V485.9M776.50 216.3V471.4M777.00 215.0V437.4M777.50 215.1V419.1M778.00 214.9V414.5M778.50 213.7V431.4M779.00 196.0V485.8M779.50 196.1V577.0M780.00 209.6V422.4M780.50 211.2V482.7M781.00 211.0V468.9M781.50 212.3V462.2M782.00 214.1V457.5M782.50 211.4V429.2M783.00 215.7V468.3M783.50 214.1V437.8M784.00 212.2V465.5M784.50 211.7V489.5M785.00 206.2V437.0M785.50 190.9V416.1M786.00 191.7V445.4M786.50 216.9V502.9M787.00 216.5V518.3M787.50 217.3V454.3M788.00 218.1V448.3M788.50 216.3V472.4M789.00 214.4V445.1M789.50 211.9V419.0M790.00 211.4V420.3M790.50 197.6V478.6M791.00 197.7V501.0M791.50 204.2V437.5M792.00 207.1V445.1M792.50 205.7V500.6M793.00 207.2V505.0M793.50 209.4V447.2M794.00 211.1V432.8M794.50 211.9V479.6M795.00 213.3V493.6M795.50 210.5V492.3M796.00 204.7V498.7M796.50 202.6V468.2M797.00 209.8V468.6M797.50 207.8V502.2M798.00 206.8V497.0M798.50 205.9V452.9M799.00 208.5V433.4M799.50 211.0V431.4M800.00 213.9V442.6M800.50 212.5V472.4M801.00 212.5V477.2M801.50 210.2V501.0M802.00 200.1V500.9M802.50 197.9V486.9M803.00 209.2V415.9M803.50 208.0V410.9M804.00 209.9V438.4M804.50 210.3V498.5M805.00 210.7V556.1M805.50 210.1V551.6M806.00 211.1V526.2M806.50 211.9V499.8M807.00 210.7V496.5M807.50 202.9V438.5M808.00 204.2V443.6M808.50 182.1V587.0M809.00 185.0V476.4M809.50 203.5V438.9M810.00 208.3V460.6M810.50 200.8V460.0M811.00 208.5V411.8M811.50 211.2V411.8M812.00 213.3V433.0M812.50 207.1V498.7M813.00 204.5V476.7M813.50 206.0V462.0M814.00 208.0V466.9M814.50 210.7V480.1M815.00 212.5V532.9M815.50 214.1V546.5M816.00 212.8V488.7M816.50 210.3V439.2M817.00 206.8V428.6M817.50 204.2V431.4M818.00 203.7V478.6M818.50 200.5V464.0M819.00 187.4V472.2M819.50 188.5V501.1M820.00 209.6V474.7M820.50 209.6V498.7M821.00 208.3V437.5M821.50 206.2V412.4M822.00 206.0V453.8M822.50 208.3V445.2M823.00 209.5V412.9M823.50 198.5V419.4M824.00 197.0V417.6M824.50 204.5V414.5M825.00 205.6V446.8M825.50 204.9V511.1M826.00 203.7V489.7M826.50 204.7V484.9M827.00 204.4V422.0M827.50 206.0V428.3M828.00 192.6V454.3M828.50 201.1V486.3M829.00 207.2V447.2M829.50 210.1V439.8M830.00 207.6V520.0M830.50 187.8V470.5M831.00 184.1V510.3M831.50 204.6V433.1M832.00 202.7V411.8M832.50 206.4V414.8M833.00 210.2V447.3M833.50 211.5V571.0M834.00 209.3V420.2M834.50 206.8V411.8M835.00 204.9V480.1M835.50 185.4V431.9M836.00 186.7V423.0M836.50 202.8V425.3M837.00 209.7V517.0M837.50 210.1V475.6M838.00 209.8V513.4M838.50 208.4V481.2M839.00 207.4V503.6M839.50 208.7V514.8M840.00 205.2V479.1M840.50 206.3V428.9M841.00 209.4V481.5M841.50 207.9V468.7M842.00 198.3V462.7M842.50 198.2V437.4M843.00 201.0V427.4M843.50 203.5V433.9M844.00 203.2V455.6M844.50 204.9V430.3M845.00 204.4V450.2M845.50 209.3V441.8M846.00 208.9V509.0M846.50 200.2V465.5M847.00 201.5V502.2M847.50 213.1V462.9M848.00 210.6V449.3M848.50 207.8V426.2M849.00 208.0V452.9M849.50 206.8V477.3M850.00 204.8V480.6M850.50 201.2V426.6M851.00 199.9V427.1M851.50 200.2V455.1M852.00 201.4V481.0M852.50 201.4V448.9M853.00 189.8V428.2M853.50 191.0V454.2M854.00 203.5V468.4M854.50 206.6V440.8M855.00 207.3V500.5M855.50 208.2V419.8M856.00 207.0V449.4M856.50 206.3V478.2M857.00 204.7V470.4M857.50 205.6V505.8M858.00 205.5V501.9M858.50 195.3V492.7M859.00 193.6V495.1M859.50 200.9V469.8M860.00 203.2V487.7M860.50 205.4V463.4M861.00 207.1V435.0M861.50 207.1V427.7M862.00 205.3V449.9M862.50 205.1V436.0M863.00 204.5V530.8M863.50 198.8V449.4M864.00 191.5V465.3M864.50 191.8V512.3M865.00 204.5V462.4M865.50 203.3V427.7M866.00 200.7V414.6M866.50 198.0V450.8M867.00 198.4V471.0M867.50 200.2V573.0M868.00 198.5V457.2M868.50 193.0V461.6M869.00 195.3V475.7M869.50 209.0V442.5M870.00 209.2V445.2M870.50 206.8V482.7M871.00 204.4V563.8M871.50 202.7V484.4M872.00 206.0V440.2M872.50 209.8V439.7M873.00 213.0V431.5M873.50 213.0V452.1M874.00 205.5V473.0M874.50 202.9V424.9M875.00 204.0V447.4M875.50 205.0V452.4M876.00 205.7V446.0M876.50 205.9V583.0M877.00 204.0V536.0M877.50 195.3V458.2M878.00 202.1V422.9M878.50 202.4V442.2M879.00 194.6V456.8M879.50 194.0V475.0M880.00 203.8V449.4M880.50 204.5V429.2M881.00 204.6V412.6M881.50 204.4V426.7M882.00 205.7V461.4M882.50 206.0V473.1M883.00 205.4V495.7M883.50 205.6V475.2M884.00 205.9V483.5M884.50 207.4V441.9M885.00 203.6V422.3M885.50 196.1V411.8M886.00 193.2V411.8M886.50 200.4V459.4M887.00 200.1V483.3M887.50 202.5V426.2M888.00 205.2V411.8M888.50 206.0V428.3M889.00 204.6V525.3M889.50 203.2V446.8M890.00 198.6V450.6M890.50 201.6V441.3M891.00 202.3V414.1M891.50 191.0V411.8M892.00 188.9V422.5M892.50 189.4V448.4M893.00 201.1V511.8M893.50 201.4V560.5M894.00 199.5V493.4M894.50 201.4V457.8M895.00 202.9V441.6M895.50 206.7V466.9M896.00 207.1V453.9M896.50 202.5V451.7M897.00 194.1V449.4M897.50 192.1V437.5M898.00 198.7V419.5M898.50 201.5V455.8M899.00 202.7V449.4M899.50 203.3V412.0M900.00 203.5V438.2M900.50 204.9V488.2M901.00 205.6V441.1M901.50 202.5V455.8M902.00 193.8V468.0M902.50 190.2V451.0M903.00 194.8V462.5M903.50 193.7V490.4M904.00 194.5V480.4M904.50 197.2V449.8M905.00 199.9V431.4M905.50 201.0V524.9M906.00 199.9V478.7M906.50 198.7V492.3M907.00 186.5V502.8M907.50 187.4V484.8M908.00 196.1V444.0M908.50 200.8V417.7M909.00 201.6V411.9M909.50 202.2V411.8M910.00 202.1V411.8M910.50 193.4V429.1M911.00 202.8V468.8M911.50 203.8V506.6M912.00 202.9V503.7M912.50 201.8V545.6M913.00 196.1V449.1M913.50 189.9V479.0M914.00 188.7V486.5M914.50 196.0V457.7M915.00 196.4V535.7M915.50 197.3V515.2M916.00 198.7V460.2M916.50 200.8V487.3M917.00 201.5V479.0M917.50 202.5V460.8M918.00 201.3V453.2M918.50 200.6V478.4M919.00 192.2V501.7M919.50 194.2V488.0M920.00 203.8V432.3M920.50 205.1V432.3M921.00 204.0V484.0M921.50 189.8V492.7M922.00 198.5V479.6M922.50 195.9V437.0M923.00 196.2V446.0M923.50 197.5V444.9M924.00 195.0V504.1M924.50 185.9V483.9M925.00 184.8V431.5M925.50 195.0V438.4M926.00 193.7V459.0M926.50 192.3V491.1M927.00 191.1V483.9M927.50 191.1V477.0M928.00 190.6V457.5M928.50 190.9V450.5M929.00 191.7V470.9M929.50 193.1V522.5M930.00 180.7V446.0M930.50 180.5V421.9M931.00 189.8V411.5M931.50 193.3V410.0M932.00 194.4V410.4M932.50 195.9V424.4M933.00 196.8V443.3M933.50 196.7V516.4M934.00 196.9V479.0M934.50 182.1V522.6M935.00 188.1V471.8M935.50 188.6V410.4M936.00 189.4V410.4M936.50 197.6V413.2M937.00 195.7V425.3M937.50 194.9V653.0M938.00 194.2V419.8M938.50 195.5V412.3M939.00 196.1V446.2M939.50 196.3V530.0M940.00 194.9V496.9M940.50 194.2V469.4M941.00 189.4V411.5M941.50 178.5V410.0M942.00 176.5V441.2M942.50 190.2V542.7M943.00 190.4V476.1M943.50 192.7V449.2M944.00 193.9V462.4M944.50 194.5V530.3M945.00 194.2V489.8M945.50 194.1V440.4M946.00 193.4V493.3M946.50 191.8V502.3M947.00 184.0V505.5M947.50 186.6V460.6M948.00 197.3V448.5M948.50 195.9V437.3M949.00 192.8V437.5M949.50 192.6V442.8M950.00 191.3V468.7M950.50 193.4V500.2M951.00 192.9V499.4M951.50 184.0V496.9M952.00 188.4V477.0M952.50 195.2V491.2M953.00 184.6V471.5M953.50 183.9V418.2M954.00 191.5V435.8M954.50 195.5V443.8M955.00 195.1V449.6M955.50 191.1V506.8M956.00 188.6V507.4M956.50 181.7V455.4M957.00 189.7V466.1M957.50 192.4V524.4M958.00 185.9V500.6M958.50 185.4V461.1M959.00 190.4V499.3M959.50 193.6V440.8M960.00 194.2V434.8M960.50 194.9V479.7M961.00 193.8V505.2M961.50 193.5V462.9M962.00 192.0V438.1M962.50 189.4V445.2M963.00 180.1V444.6M963.50 181.8V426.1M964.00 196.0V438.5M964.50 188.0V428.3M965.00 197.1V427.6M965.50 198.2V493.3M966.00 198.3V461.3M966.50 197.5V427.5M967.00 196.7V454.5M967.50 196.1V518.2M968.00 196.4V458.2M968.50 186.9V466.3M969.00 184.9V557.3M969.50 187.5V510.4M970.00 191.0V502.1M970.50 192.7V491.1M971.00 193.8V445.9M971.50 193.6V420.9M972.00 183.4V435.6M972.50 194.1V492.9M973.00 193.5V457.7M973.50 193.2V467.7M974.00 182.8V448.2M974.50 183.3V449.1M975.00 191.1V477.3M975.50 192.1V462.5M976.00 190.8V479.0M976.50 190.2V495.9M977.00 188.9V429.8M977.50 183.4V417.5M978.00 187.8V428.6M978.50 189.6V474.4M979.00 179.4V497.7M979.50 191.0V487.6M980.00 192.1V450.6M980.50 192.7V427.5M981.00 185.7V417.9M981.50 182.3V438.3M982.00 185.7V422.4M982.50 187.4V440.8M983.00 190.1V456.1M983.50 193.1V422.9M984.00 193.4V417.0M984.50 193.9V410.5M985.00 185.4V410.7M985.50 185.8V433.9M986.00 189.3V536.4M986.50 190.5V485.1M987.00 190.6V445.8M987.50 191.1V432.1M988.00 192.3V513.1M988.50 191.9V448.6M989.00 191.3V441.7M989.50 189.0V489.4M990.00 187.6V473.0M990.50 187.4V440.6M991.00 187.0V439.0M991.50 176.9V486.7M992.00 181.0V478.5M992.50 181.1V449.1M993.00 184.8V506.4M993.50 185.8V475.1M994.00 188.5V527.5M994.50 188.0V422.0M995.00 186.7V419.1M995.50 184.9V453.4M996.00 181.4V495.8M996.50 170.4V529.3M997.00 170.5V436.3M997.50 187.8V436.9M998.00 187.4V473.9M998.50 187.8V520.0M999.00 188.8V491.9M999.50 190.9V458.2M1000.00 192.3V470.3M1000.50 193.7V492.6M1001.00 192.3V496.3M1001.50 182.6V484.0M1002.00 179.5V436.3M1002.50 181.4V426.6M1003.00 186.0V455.8M1003.50 185.2V492.4M1004.00 182.0V435.0M1004.50 188.5V414.5M1005.00 184.0V427.6M1005.50 191.0V488.9M1006.00 177.2V492.3M1006.50 189.3V502.4M1007.00 188.8V470.5M1007.50 181.9V441.5M1008.00 180.8V468.6M1008.50 183.4V452.3M1009.00 186.0V409.5M1009.50 194.9V408.6M1010.00 195.2V405.7M1010.50 193.5V426.1M1011.00 193.4V485.7M1011.50 195.4V466.0M1012.00 195.0V451.8M1012.50 187.0V474.5M1013.00 185.1V467.7M1013.50 195.8V463.9M1014.00 193.2V543.6M1014.50 191.9V455.8M1015.00 190.0V429.9M1015.50 189.7V595.0M1016.00 184.3V420.2M1016.50 191.5V483.9M1017.00 192.7V430.8M1017.50 188.8V421.1M1018.00 191.5V431.9M1018.50 187.7V431.7M1019.00 188.8V451.0M1019.50 196.3V436.9M1020.00 198.7V485.7M1020.50 199.7V455.0M1021.00 196.1V428.5M1021.50 173.5V400.3M1022.00 191.6V398.3M1022.50 191.3V405.4M1023.00 191.5V486.7M1023.50 190.6V449.0M1024.00 182.2V435.1M1024.50 171.8V417.7M1025.00 168.1V429.5M1025.50 169.7V405.0M1026.00 176.6V394.8M1026.50 181.5V392.8M1027.00 180.4V427.2M1027.50 181.2V401.2M1028.00 180.9V397.2M1028.50 180.9V417.9M1029.00 179.4V411.8M1029.50 177.8V410.2M1030.00 169.7V465.5M1030.50 169.2V521.2M1031.00 178.0V490.2M1031.50 178.3V440.8M1032.00 178.7V395.2M1032.50 177.0V420.7M1033.00 178.4V437.8M1033.50 178.9V427.1M1034.00 181.4V411.6M1034.50 179.5V404.0M1035.00 173.6V420.5M1035.50 164.1V430.8M1036.00 162.1V483.6M1036.50 173.2V409.2M1037.00 168.8V427.7M1037.50 174.8V393.1M1038.00 173.6V382.8M1038.50 175.1V445.9M1039.00 178.4V424.1M1039.50 180.1V424.7M1040.00 179.6V459.8M1040.50 178.0V428.3M1041.00 170.3V411.3M1041.50 170.2V396.6M1042.00 178.3V391.8M1042.50 181.6V391.6M1043.00 174.9V407.3M1043.50 181.9V462.9M1044.00 182.7V451.5M1044.50 182.2V442.7M1045.00 181.9V402.1M1045.50 178.4V401.9M1046.00 174.7V441.2M1046.50 163.0V453.0M1047.00 170.3V479.5M1047.50 179.1V466.1M1048.00 179.6V468.8M1048.50 180.5V470.2M1049.00 179.1V425.5M1049.50 179.1V435.6M1050.00 178.8V486.2M1050.50 179.6V413.9M1051.00 178.2V408.5M1051.50 177.9V411.8M1052.00 178.6V441.3M1052.50 177.7V475.7M1053.00 171.6V446.7M1053.50 170.5V428.7M1054.00 180.0V421.4M1054.50 180.5V385.5M1055.00 181.7V392.2M1055.50 181.2V434.5M1056.00 179.3V436.9M1056.50 178.2V441.4M1057.00 177.5V444.7M1057.50 167.9V438.6M1058.00 168.5V503.1M1058.50 176.7V467.5M1059.00 179.5V409.1M1059.50 177.3V412.0M1060.00 174.6V433.9M1060.50 175.6V462.1M1061.00 177.6V430.9M1061.50 180.1V413.5M1062.00 180.5V421.3M1062.50 178.4V523.8M1063.00 166.9V464.6M1063.50 163.0V410.9M1064.00 169.1V385.5M1064.50 169.5V389.3M1065.00 171.8V390.4M1065.50 176.6V422.1M1066.00 179.7V498.7M1066.50 180.7V433.1M1067.00 180.5V446.8M1067.50 180.3V437.2M1068.00 175.0V412.3M1068.50 174.0V475.0M1069.00 175.5V408.4M1069.50 176.1V446.2M1070.00 176.0V455.6M1070.50 179.1V400.0M1071.00 177.0V383.6M1071.50 184.5V424.7M1072.00 184.9V503.2M1072.50 179.8V464.4M1073.00 182.0V448.0M1073.50 179.2V466.2M1074.00 176.7V382.8M1074.50 169.5V381.0M1075.00 168.8V390.0M1075.50 174.4V454.9M1076.00 177.2V412.6M1076.50 177.5V474.6M1077.00 176.0V432.8M1077.50 175.5V410.1M1078.00 176.1V383.5M1078.50 176.5V402.6M1079.00 175.1V413.5M1079.50 173.9V406.1M1080.00 173.4V432.7M1080.50 167.5V406.3M1081.00 167.7V421.3M1081.50 172.0V487.8M1082.00 175.5V419.0M1082.50 176.3V444.7M1083.00 176.4V441.0M1083.50 176.7V462.8M1084.00 177.7V451.8M1084.50 173.1V529.5M1085.00 179.9V419.4M1085.50 171.3V401.3M1086.00 171.3V426.7M1086.50 172.5V466.4M1087.00 175.2V428.7M1087.50 178.7V411.8M1088.00 178.2V440.3M1088.50 179.5V457.6M1089.00 180.2V436.8M1089.50 180.4V420.4M1090.00 171.4V408.5M1090.50 180.4V411.1M1091.00 175.9V423.1M1091.50 176.9V381.0M1092.00 180.9V381.0M1092.50 182.7V381.3M1093.00 168.5V388.8M1093.50 180.3V386.1M1094.00 179.5V400.9M1094.50 179.6V393.6M1095.00 178.1V406.4M1095.50 177.2V413.0M1096.00 177.1V460.5M1096.50 178.1V443.7M1097.00 176.3V397.6M1097.50 171.1V395.6M1098.00 162.8V410.5M1098.50 176.0V415.8M1099.00 177.6V526.8M1099.50 180.8V424.7M1100.00 183.3V440.7M1100.50 185.2V422.7M1101.00 184.3V433.0M1101.50 183.0V504.0M1102.00 179.3V458.2M1102.50 169.1V420.5M1103.00 166.8V417.0M1103.50 175.9V416.5M1104.00 177.5V404.0M1104.50 178.6V420.3M1105.00 181.0V449.4M1105.50 179.2V461.0M1106.00 180.5V419.2M1106.50 179.6V392.1M1107.00 180.5V419.1M1107.50 174.3V506.7M1108.00 171.8V446.7M1108.50 172.8V384.3M1109.00 181.3V381.0M1109.50 180.7V382.8M1110.00 178.7V410.5M1110.50 177.2V493.0M1111.00 176.2V479.9M1111.50 177.2V461.1M1112.00 174.1V449.9M1112.50 177.6V422.5M1113.00 175.1V399.4M1113.50 175.1V416.6M1114.00 168.5V458.6M1114.50 173.2V409.3M1115.00 183.0V447.0M1115.50 184.6V416.1M1116.00 182.3V391.5M1116.50 174.4V425.0M1117.00 174.1V479.4M1117.50 171.9V495.0M1118.00 171.5V450.9M1118.50 169.4V421.7M1119.00 167.9V445.1M1119.50 170.5V492.6M1120.00 172.6V405.1M1120.50 178.8V383.8M1121.00 184.5V404.9M1121.50 186.2V445.2M1122.00 181.8V440.6M1122.50 175.7V480.8M1123.00 173.2V432.4M1123.50 174.6V601.0M1124.00 176.4V434.8M1124.50 175.4V467.3M1125.00 163.2V449.5M1125.50 163.5V408.8M1126.00 174.6V429.4M1126.50 179.1V413.6M1127.00 180.6V405.0M1127.50 181.7V431.9M1128.00 182.7V487.8M1128.50 182.7V448.0M1129.00 181.4V433.6M1129.50 178.4V469.4M1130.00 178.1V410.7M1130.50 168.7V420.7M1131.00 172.0V475.9M1131.50 181.3V434.5M1132.00 182.4V444.6M1132.50 180.2V461.2M1133.00 165.0V422.4M1133.50 179.4V400.6M1134.00 180.4V382.8M1134.50 181.3V395.2M1135.00 182.9V407.4M1135.50 182.5V384.7M1136.00 176.7V382.8M1136.50 173.7V405.6M1137.00 178.6V406.9M1137.50 179.1V409.3M1138.00 179.8V466.3M1138.50 185.5V385.4M1139.00 184.9V389.7M1139.50 182.9V382.8M1140.00 180.6V382.8M1140.50 176.1V386.8M1141.00 179.6V393.0M1141.50 176.6V407.9M1142.00 167.8V383.3M1142.50 167.6V381.0M1143.00 176.9V391.9M1143.50 162.2V448.6M1144.00 178.1V418.2M1144.50 179.6V391.0M1145.00 179.1V384.7M1145.50 178.3V393.9M1146.00 174.4V418.9M1146.50 168.8V389.2M1147.00 169.3V394.3M1147.50 172.3V424.2M1148.00 173.9V433.1M1148.50 172.0V419.5M1149.00 174.9V408.1M1149.50 169.8V501.3M1150.00 179.9V461.8M1150.50 178.7V448.6M1151.00 178.2V454.8M1151.50 178.1V504.7M1152.00 176.9V412.6M1152.50 172.4V411.6M1153.00 173.1V381.8M1153.50 178.4V382.8M1154.00 179.6V407.9M1154.50 178.2V411.9M1155.00 177.7V405.7M1155.50 176.9V408.6M1156.00 178.3V458.9M1156.50 181.1V492.3M1157.00 183.5V441.5M1157.50 184.0V413.2M1158.00 182.6V397.1M1158.50 171.8V384.6M1159.00 170.3V388.3M1159.50 173.5V416.5M1160.00 178.6V479.6M1160.50 178.9V449.8M1161.00 178.0V416.4M1161.50 173.0V418.9M1162.00 174.9V408.0M1162.50 166.8V461.6M1163.00 165.1V431.7M1163.50 174.0V412.8M1164.00 174.3V413.4M1164.50 177.5V422.3M1165.00 181.1V459.4M1165.50 182.1V471.4M1166.00 182.6V505.0M1166.50 182.1V492.0M1167.00 181.8V444.6M1167.50 181.1V508.1M1168.00 177.6V453.3M1168.50 168.5V452.7M1169.00 167.6V417.3M1169.50 177.3V417.6M1170.00 168.2V484.7M1170.50 176.9V397.3M1171.00 176.9V388.9M1171.50 176.0V438.5M1172.00 177.4V443.1M1172.50 178.5V434.8M1173.00 180.3V451.4M1173.50 174.8V473.3M1174.00 180.1V451.0M1174.50 165.9V465.5M1175.00 165.1V385.5M1175.50 168.4V421.0M1176.00 170.0V456.8M1176.50 175.4V469.7M1177.00 165.2V445.6M1177.50 180.7V461.2M1178.00 180.7V451.4M1178.50 180.7V424.9M1179.00 179.6V391.8M1179.50 173.5V387.8M1180.00 172.0V448.5M1180.50 172.9V432.7M1181.00 177.4V444.8M1181.50 177.5V424.3M1182.00 178.4V414.2M1182.50 166.3V467.8M1183.00 179.5V491.2M1183.50 179.2V518.0M1184.00 178.9V481.4M1184.50 177.2V444.2M1185.00 177.2V410.7M1185.50 178.2V395.4M1186.00 177.7V408.6M1186.50 168.3V423.8M1187.00 172.1V433.3M1187.50 177.4V409.9M1188.00 176.6V435.6M1188.50 175.9V450.1M1189.00 177.1V414.9M1189.50 177.8V404.3M1190.00 179.6V411.6M1190.50 178.7V444.4M1191.00 183.7V425.7M1191.50 176.9V413.7M1192.00 173.1V402.5M1192.50 178.8V399.4M1193.00 180.0V405.7M1193.50 181.3V435.4M1194.00 180.5V475.1M1194.50 178.9V409.1M1195.00 179.1V412.5M1195.50 179.4V414.4M1196.00 175.2V410.1M1196.50 163.1V412.0M1197.00 162.9V438.3M1197.50 179.8V547.0M1198.00 180.4V421.5M1198.50 172.4V421.9M1199.00 179.9V422.8M1199.50 178.1V420.4M1200.00 176.8V415.6M1200.50 173.2V425.4M1201.00 178.8V434.8M1201.50 169.6V431.2M1202.00 170.1V441.0M1202.50 169.6V424.2M1203.00 173.7V415.2M1203.50 179.0V418.8M1204.00 178.4V458.1M1204.50 178.2V413.4M1205.00 179.1V413.3M1205.50 178.2V419.4M1206.00 178.8V416.4M1206.50 179.3V473.5M1207.00 182.5V454.3M1207.50 183.2V417.6M1208.00 176.0V411.2M1208.50 164.7V397.1M1209.00 179.1V410.2M1209.50 164.4V408.1M1210.00 182.9V450.0M1210.50 182.1V486.2M1211.00 181.7V446.3M1211.50 176.5V497.9M1212.00 167.8V399.4M1212.50 179.4V391.4M1213.00 172.8V400.7M1213.50 172.0V406.7M1214.00 177.8V517.1M1214.50 172.7V444.2M1215.00 182.0V474.3M1215.50 182.4V440.9M1216.00 182.3V452.7M1216.50 183.8V418.5M1217.00 186.1V441.4M1217.50 187.6V420.8M1218.00 176.9V382.8M1218.50 188.8V382.9M1219.00 185.0V483.7M1219.50 175.9V449.5M1220.00 173.4V458.9M1220.50 171.4V465.7M1221.00 184.3V422.0M1221.50 187.0V441.3M1222.00 188.7V459.4M1222.50 188.0V443.0M1223.00 186.0V415.6M1223.50 183.8V421.7M1224.00 179.5V460.6M1224.50 173.6V570.0M1225.00 175.5V443.1M1225.50 183.2V451.4M1226.00 182.8V515.4M1226.50 182.4V451.4M1227.00 182.0V404.9M1227.50 175.2V404.5M1228.00 179.6V457.2M1228.50 178.6V440.0M1229.00 180.8V408.3M1229.50 182.5V414.9M1230.00 183.1V469.3M1230.50 173.9V437.8M1231.00 174.3V494.4M1231.50 185.4V451.3M1232.00 185.3V433.1M1232.50 184.3V492.2M1233.00 182.0V418.7M1233.50 170.5V436.0M1234.00 184.5V467.5M1234.50 185.9V483.4M1235.00 186.4V470.8M1235.50 186.3V442.7M1236.00 184.1V450.3M1236.50 180.2V396.5M1237.00 181.2V382.4M1237.50 188.1V395.4M1238.00 189.3V397.4M1238.50 189.9V381.4M1239.00 188.5V381.9M1239.50 186.8V393.7M1240.00 185.3V404.3M1240.50 181.8V447.4M1241.00 185.2V468.0M1241.50 166.4V498.0M1242.00 166.1V532.7M1242.50 182.1V448.1M1243.00 186.3V472.2M1243.50 184.7V512.7M1244.00 188.8V471.6M1244.50 189.1V441.4M1245.00 188.2V433.2M1245.50 177.4V454.8M1246.00 184.1V455.7M1246.50 172.3V383.7M1247.00 172.1V381.4M1247.50 185.8V382.8M1248.00 187.8V394.8M1248.50 190.1V503.1M1249.00 187.6V418.5M1249.50 186.6V416.7M1250.00 184.8V449.3M1250.50 188.7V435.4M1251.00 190.1V383.1M1251.50 189.5V383.1M1252.00 184.6V405.8M1252.50 174.2V450.5M1253.00 173.9V480.5M1253.50 176.3V446.7M1254.00 185.5V407.1M1254.50 186.8V413.9M1255.00 187.4V453.6M1255.50 178.8V430.4M1256.00 187.2V467.4M1256.50 186.4V456.4M1257.00 183.7V402.7M1257.50 174.8V382.8M1258.00 173.5V409.9M1258.50 182.9V461.4M1259.00 179.2V406.9M1259.50 185.3V390.2M1260.00 184.5V407.6M1260.50 185.0V491.8M1261.00 184.9V467.0M1261.50 185.2V386.9M1262.00 185.2V381.0M1262.50 187.3V394.0M1263.00 188.2V427.1M1263.50 183.4V382.8M1264.00 173.8V385.4M1264.50 173.8V425.3M1265.00 187.9V426.5M1265.50 185.1V407.7M1266.00 176.9V409.7M1266.50 187.8V470.6M1267.00 187.8V444.0M1267.50 186.6V409.5M1268.00 185.3V496.2M1268.50 175.5V444.4M1269.00 175.6V500.4M1269.50 174.4V439.4M1270.00 180.4V455.4M1270.50 179.3V460.1M1271.00 190.3V395.3M1271.50 190.7V382.8M1272.00 189.5V409.3M1272.50 185.8V435.3M1273.00 189.9V423.0M1273.50 191.1V446.5M1274.00 187.3V470.4M1274.50 187.1V524.4M1275.00 180.2V420.9M1275.50 179.8V408.1M1276.00 189.1V447.5M1276.50 188.4V499.5M1277.00 189.5V456.1M1277.50 188.3V446.3M1278.00 188.9V421.1M1278.50 188.9V408.6M1279.00 190.6V416.6M1279.50 192.1V410.5M1280.00 183.5V419.5M1280.50 183.8V425.9M1281.00 188.7V429.9M1281.50 186.6V412.0M1282.00 183.4V458.4M1282.50 184.6V396.2M1283.00 185.7V385.0M1283.50 187.4V409.3M1284.00 189.0V469.0M1284.50 192.9V440.9M1285.00 190.5V414.9M1285.50 197.7V448.8M1286.00 183.1V465.6M1286.50 179.1V410.1M1287.00 187.0V395.1M1287.50 189.5V385.5M1288.00 191.2V405.1M1288.50 191.3V428.6M1289.00 190.9V459.8M1289.50 190.0V539.0M1290.00 190.6V412.7M1290.50 193.9V472.7M1291.00 196.0V417.7M1291.50 184.8V438.6M1292.00 183.7V520.6M1292.50 178.6V508.8M1293.00 195.5V456.9M1293.50 195.2V446.5M1294.00 196.2V424.9M1294.50 194.9V414.1M1295.00 194.5V392.9M1295.50 193.4V408.0M1296.00 194.3V435.0M1296.50 193.3V512.7M1297.00 187.3V427.3M1297.50 181.7V407.9M1298.00 182.4V411.5M1298.50 188.6V455.9M1299.00 192.8V451.8M1299.50 193.5V475.6M1300.00 195.8V414.7M1300.50 195.7V423.5M1301.00 194.4V421.6M1301.50 190.4V428.6M1302.00 185.7V514.7M1302.50 180.5V414.8M1303.00 183.1V432.0M1303.50 187.4V486.7M1304.00 194.2V456.1M1304.50 187.6V410.7M1305.00 191.0V413.7M1305.50 190.8V441.5M1306.00 193.7V474.2M1306.50 196.2V476.8M1307.00 199.6V409.6M1307.50 199.0V384.6M1308.00 191.3V393.0M1308.50 192.6V446.7M1309.00 202.8V506.6M1309.50 204.3V473.8M1310.00 202.5V486.5M1310.50 200.2V452.1M1311.00 198.6V428.9M1311.50 197.8V411.3M1312.00 197.8V384.6M1312.50 195.0V409.7M1313.00 197.3V422.4M1313.50 193.7V420.9M1314.00 181.0V472.3M1314.50 182.3V410.9M1315.00 197.0V383.7M1315.50 196.3V383.8M1316.00 197.0V401.6M1316.50 199.1V413.4M1317.00 202.2V514.8M1317.50 202.3V428.4M1318.00 201.7V439.1M1318.50 201.4V456.5M1319.00 183.8V423.4M1319.50 183.0V419.6M1320.00 195.4V478.2M1320.50 200.4V427.8M1321.00 201.0V386.0M1321.50 202.8V385.2M1322.00 201.8V414.6M1322.50 201.7V432.5M1323.00 201.0V428.8M1323.50 195.8V424.7M1324.00 192.1V451.4M1324.50 192.7V393.9M1325.00 205.3V402.1M1325.50 206.1V414.7M1326.00 208.8V433.7M1326.50 210.1V428.4M1327.00 209.1V465.7M1327.50 205.2V432.7M1328.00 201.2V416.1M1328.50 199.8V416.3M1329.00 192.4V422.4M1329.50 191.5V416.4M1330.00 193.0V447.8M1330.50 203.1V449.5M1331.00 202.5V475.2M1331.50 201.3V520.3M1332.00 201.7V455.1M1332.50 204.3V408.2M1333.00 208.0V410.4M1333.50 210.6V470.2M1334.00 215.7V485.0M1334.50 225.9V497.2M1335.00 236.8V484.2M1335.50 248.3V528.5M1336.00 268.8V527.1M1336.50 288.4V613.0M1337.00 294.0V564.1M1337.50 297.8V546.2M1338.00 302.9V548.9M1338.50 308.1V564.2M1339.00 313.0V685.8M1339.50 316.2V541.2M1340.00 319.1V564.8M1340.50 321.5V624.4M1341.00 324.9V620.7M1341.50 328.8V604.4M1342.00 333.3V589.2M1342.50 337.9V594.5M1343.00 342.6V585.3M1343.50 346.6V624.4M1344.00 350.3V601.8M1344.50 353.4V589.9M1345.00 357.9V594.7M1345.50 362.2V607.5M1346.00 366.8V652.6M1346.50 369.9V644.8M1347.00 373.2V642.5M1347.50 376.6V622.8M1348.00 380.6V629.7M1348.50 384.2V643.2M1349.00 387.7V653.2M1349.50 391.5V660.8M1350.00 395.3V664.5M1350.50 399.4V644.4M1351.00 403.0V630.9M1351.50 407.7V657.4M1352.00 412.2V694.4M1352.50 417.0V720.6M1353.00 420.2V686.0M1353.50 423.5V672.0M1354.00 427.2V708.8M1354.50 431.6V703.2M1355.00 434.9V719.3M1355.50 437.7V716.8M1356.00 440.3V724.7M1356.50 443.9V759.5M1357.00 447.6V775.4M1357.50 450.1V744.4M1358.00 452.3V761.1M1358.50 454.6V754.1M1359.00 456.8V751.0M1359.50 458.9V733.5M1360.00 461.5V772.0M1360.50 463.8V745.1M1361.00 466.3V726.1M1361.50 467.7V776.0M1362.00 468.2V716.0M1362.50 464.2V718.6M1363.00 463.1V725.0M1363.50 457.3V750.2M1364.00 452.4V816.1M1364.50 459.3V811.0M1365.00 466.6V744.0M1365.50 473.5V775.1M1366.00 477.8V792.5M1366.50 478.9V829.3M1367.00 479.5V775.6M1367.50 481.2V738.8M1368.00 480.5V749.8M1368.50 477.4V781.9M1369.00 475.1V742.7M1369.50 465.2V759.8M1370.00 456.9V760.5M1370.50 438.8V722.6M1371.00 414.1V727.8M1371.50 442.2V774.6M1372.00 462.0V829.3M1372.50 470.0V755.5M1373.00 479.4V709.9M1373.50 480.6V725.3M1374.00 481.9V760.0M1374.50 481.7V741.5M1375.00 482.0V783.9M1375.50 479.5V786.2M1376.00 474.6V743.0M1376.50 469.2V741.7M1377.00 459.1V732.5M1377.50 468.4V739.0M1378.00 474.1V740.1M1378.50 480.0V747.9M1379.00 483.8V756.9M1379.50 482.9V763.2M1380.00 481.6V776.4M1380.50 479.7V780.4M1381.00 478.0V761.9M1381.50 476.1V770.6M1382.00 473.2V781.9M1382.50 472.1V752.1M1383.00 468.3V759.7M1383.50 466.9V765.3M1384.00 456.8V733.4M1384.50 443.1V740.0M1385.00 457.6V752.3M1385.50 467.5V774.0M1386.00 474.1V774.0M1386.50 481.7V737.7M1387.00 482.3V719.2M1387.50 482.9V727.3M1388.00 482.7V744.1M1388.50 481.4V765.2M1389.00 480.7V770.8M1389.50 478.7V750.6M1390.00 478.4V798.5M1390.50 466.6V757.9M1391.00 460.0V770.2M1391.50 441.3V805.6M1392.00 420.4V806.6M1392.50 453.5V743.1M1393.00 469.3V752.1M1393.50 476.3V829.3M1394.00 487.8V798.8M1394.50 488.7V767.4M1395.00 487.3V770.3M1395.50 484.2V741.6M1396.00 481.5V760.6M1396.50 480.5V829.3" stroke="#0072BD" stroke-width="1.5" stroke-linecap="round" fill="none"/>
<path d="M778.55 196H779.65L779.22 269H778.98Z" fill="#fff" fill-opacity="0.85"/></g>
<path d="M250 246.75H1302" stroke="#fff" stroke-width="5.3"/>
<path d="M220.6 246.75L252.5 230.85V262.65Z M1330.6 246.75L1298.7 230.85V262.65Z" fill="#fff"/>
<text x="555.7" y="302.3" font-size="51.1" fill="#fff">Bandwidth = 9 MHz</text>
<text class="tt" x="412.6" y="37.7">Normalized Power Spectrum of</text>
<text class="tt" x="368.9" y="94.7">a measured downlink LTE-R signal</text>
<text class="tk" x="284.5" y="888.3" text-anchor="middle">812</text>
<text class="tk" x="531.6" y="888.3" text-anchor="middle">814</text>
<text class="tk" x="778.7" y="888.3" text-anchor="middle">816</text>
<text class="tk" x="1025.8" y="888.3" text-anchor="middle">818</text>
<text class="tk" x="1272.9" y="888.3" text-anchor="middle">820</text>
<text class="tk" x="146.1" y="177.3" text-anchor="end">0</text>
<text class="tk" x="146.1" y="310.9" text-anchor="end">-20</text>
<text class="tk" x="146.1" y="444.5" text-anchor="end">-40</text>
<text class="tk" x="146.1" y="578.1" text-anchor="end">-60</text>
<text class="tk" x="146.1" y="711.7" text-anchor="end">-80</text>
<text class="tk" x="146.1" y="845.3" text-anchor="end">-100</text>
<text class="lb" x="586.4" y="945.7">Frequency (MHz)</text>
<text class="lb" transform="translate(38 836.3) rotate(-90)">Normalized Power Spectrum (dB)</text>
</svg></body></html>
